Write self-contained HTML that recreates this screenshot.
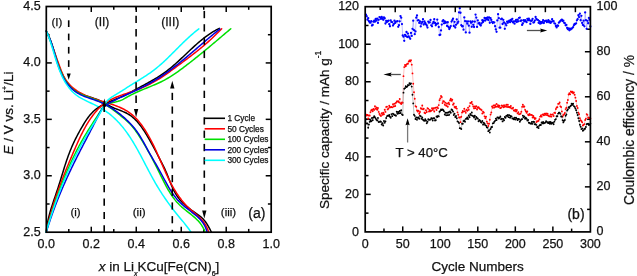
<!DOCTYPE html>
<html><head><meta charset="utf-8"><style>
html,body{margin:0;padding:0;background:#fff;}
svg{display:block;}
text{font-family:"Liberation Sans",sans-serif;fill:#111;stroke:#111;stroke-width:0.25px;}
text{filter:grayscale(1);}
</style></head><body>
<svg width="637" height="276" viewBox="0 0 637 276">
<rect width="637" height="276" fill="#fff"/>
<line x1="68.79" y1="232.20" x2="68.79" y2="228.90" stroke="#000" stroke-width="1.5" />
<line x1="68.79" y1="6.50" x2="68.79" y2="9.80" stroke="#000" stroke-width="1.5" />
<line x1="91.28" y1="232.20" x2="91.28" y2="226.70" stroke="#000" stroke-width="1.5" />
<line x1="91.28" y1="6.50" x2="91.28" y2="12.00" stroke="#000" stroke-width="1.5" />
<line x1="113.77" y1="232.20" x2="113.77" y2="228.90" stroke="#000" stroke-width="1.5" />
<line x1="113.77" y1="6.50" x2="113.77" y2="9.80" stroke="#000" stroke-width="1.5" />
<line x1="136.26" y1="232.20" x2="136.26" y2="226.70" stroke="#000" stroke-width="1.5" />
<line x1="136.26" y1="6.50" x2="136.26" y2="12.00" stroke="#000" stroke-width="1.5" />
<line x1="158.75" y1="232.20" x2="158.75" y2="228.90" stroke="#000" stroke-width="1.5" />
<line x1="158.75" y1="6.50" x2="158.75" y2="9.80" stroke="#000" stroke-width="1.5" />
<line x1="181.24" y1="232.20" x2="181.24" y2="226.70" stroke="#000" stroke-width="1.5" />
<line x1="181.24" y1="6.50" x2="181.24" y2="12.00" stroke="#000" stroke-width="1.5" />
<line x1="203.73" y1="232.20" x2="203.73" y2="228.90" stroke="#000" stroke-width="1.5" />
<line x1="203.73" y1="6.50" x2="203.73" y2="9.80" stroke="#000" stroke-width="1.5" />
<line x1="226.22" y1="232.20" x2="226.22" y2="226.70" stroke="#000" stroke-width="1.5" />
<line x1="226.22" y1="6.50" x2="226.22" y2="12.00" stroke="#000" stroke-width="1.5" />
<line x1="248.71" y1="232.20" x2="248.71" y2="228.90" stroke="#000" stroke-width="1.5" />
<line x1="248.71" y1="6.50" x2="248.71" y2="9.80" stroke="#000" stroke-width="1.5" />
<line x1="46.30" y1="203.99" x2="49.60" y2="203.99" stroke="#000" stroke-width="1.5" />
<line x1="271.20" y1="203.99" x2="267.90" y2="203.99" stroke="#000" stroke-width="1.5" />
<line x1="46.30" y1="175.77" x2="51.80" y2="175.77" stroke="#000" stroke-width="1.5" />
<line x1="271.20" y1="175.77" x2="265.70" y2="175.77" stroke="#000" stroke-width="1.5" />
<line x1="46.30" y1="147.56" x2="49.60" y2="147.56" stroke="#000" stroke-width="1.5" />
<line x1="271.20" y1="147.56" x2="267.90" y2="147.56" stroke="#000" stroke-width="1.5" />
<line x1="46.30" y1="119.35" x2="51.80" y2="119.35" stroke="#000" stroke-width="1.5" />
<line x1="271.20" y1="119.35" x2="265.70" y2="119.35" stroke="#000" stroke-width="1.5" />
<line x1="46.30" y1="91.14" x2="49.60" y2="91.14" stroke="#000" stroke-width="1.5" />
<line x1="271.20" y1="91.14" x2="267.90" y2="91.14" stroke="#000" stroke-width="1.5" />
<line x1="46.30" y1="62.93" x2="51.80" y2="62.93" stroke="#000" stroke-width="1.5" />
<line x1="271.20" y1="62.93" x2="265.70" y2="62.93" stroke="#000" stroke-width="1.5" />
<line x1="46.30" y1="34.71" x2="49.60" y2="34.71" stroke="#000" stroke-width="1.5" />
<line x1="271.20" y1="34.71" x2="267.90" y2="34.71" stroke="#000" stroke-width="1.5" />
<text x="46.30" y="248.00" font-size="12.5" text-anchor="middle" >0.0</text>
<text x="91.28" y="248.00" font-size="12.5" text-anchor="middle" >0.2</text>
<text x="136.26" y="248.00" font-size="12.5" text-anchor="middle" >0.4</text>
<text x="181.24" y="248.00" font-size="12.5" text-anchor="middle" >0.6</text>
<text x="226.22" y="248.00" font-size="12.5" text-anchor="middle" >0.8</text>
<text x="271.20" y="248.00" font-size="12.5" text-anchor="middle" >1.0</text>
<text x="40.60" y="236.00" font-size="12.5" text-anchor="end" >2.5</text>
<text x="40.60" y="179.00" font-size="12.5" text-anchor="end" >3.0</text>
<text x="40.60" y="123.00" font-size="12.5" text-anchor="end" >3.5</text>
<text x="40.60" y="66.00" font-size="12.5" text-anchor="end" >4.0</text>
<text x="40.60" y="10.00" font-size="12.5" text-anchor="end" >4.5</text>
<g stroke-linejoin="round" stroke-linecap="round"><path d="M46.19,31.10 L46.99,32.56 L47.75,34.04 L48.47,35.56 L49.15,37.09 L49.81,38.66 L50.44,40.24 L51.04,41.84 L51.62,43.46 L52.18,45.09 L52.72,46.73 L53.25,48.39 L53.78,50.05 L54.29,51.72 L54.80,53.40 L55.31,55.07 L55.82,56.75 L56.34,58.42 L56.87,60.09 L57.40,61.76 L57.95,63.41 L58.52,65.06 L59.11,66.69 L59.72,68.31 L60.36,69.91 L61.03,71.49 L61.73,73.05 L62.47,74.59 L63.24,76.10 L64.06,77.59 L64.92,79.04 L65.83,80.47 L66.79,81.86 L67.80,83.21 L68.86,84.53 L69.97,85.79 L71.13,87.01 L72.35,88.18 L73.61,89.28 L74.93,90.33 L76.30,91.31 L77.72,92.22 L79.19,93.06 L80.71,93.81 L82.28,94.50 L83.88,95.13 L85.52,95.71 L87.18,96.26 L88.85,96.79 L90.53,97.31 L92.20,97.83 L93.86,98.37 L95.51,98.94 L97.13,99.55 L98.71,100.21 L100.25,100.93 L101.77,101.69 L103.27,102.48 L104.76,103.30 L106.24,104.12 L107.73,104.94 L109.24,105.74 L110.76,106.52 L112.32,107.26 L113.91,107.95 L115.53,108.61 L117.16,109.25 L118.80,109.88 L120.43,110.51 L122.05,111.15 L123.66,111.82 L125.23,112.53 L126.76,113.29 L128.24,114.10 L129.67,114.99 L131.04,115.95 L132.35,116.97 L133.62,118.06 L134.85,119.19 L136.03,120.38 L137.17,121.61 L138.27,122.89 L139.34,124.20 L140.38,125.55 L141.39,126.93 L142.38,128.33 L143.35,129.75 L144.30,131.19 L145.23,132.64 L146.14,134.10 L147.05,135.57 L147.93,137.06 L148.81,138.55 L149.67,140.05 L150.52,141.56 L151.36,143.08 L152.19,144.60 L153.02,146.12 L153.83,147.65 L154.64,149.17 L155.44,150.70 L156.24,152.23 L157.03,153.75 L157.82,155.28 L158.61,156.80 L159.40,158.31 L160.18,159.82 L160.97,161.32 L161.75,162.83 L162.52,164.33 L163.28,165.84 L164.03,167.36 L164.76,168.89 L165.47,170.44 L166.17,172.00 L166.83,173.59 L167.48,175.19 L168.12,176.81 L168.75,178.44 L169.38,180.07 L170.01,181.70 L170.65,183.32 L171.31,184.94 L171.98,186.54 L172.69,188.12 L173.42,189.68 L174.20,191.22 L175.02,192.72 L175.89,194.19 L176.81,195.62 L177.78,197.01 L178.80,198.36 L179.88,199.67 L180.99,200.95 L182.14,202.19 L183.34,203.40 L184.57,204.58 L185.83,205.72 L187.13,206.83 L188.45,207.91 L189.80,208.96 L191.17,209.98 L192.56,210.97 L193.96,211.94 L195.37,212.90 L196.77,213.86 L198.15,214.83 L199.50,215.84 L200.81,216.88 L202.07,217.98 L203.27,219.15 L204.39,220.40 L205.44,221.72 L206.42,223.13 L207.34,224.59 L208.22,226.10 L209.07,227.64 L209.89,229.20 L210.69,230.76 L211.50,232.32" fill="none" stroke="#000000" stroke-width="1.5"/><path d="M46.26,31.03 L46.96,32.59 L47.63,34.16 L48.29,35.74 L48.94,37.31 L49.57,38.89 L50.19,40.47 L50.80,42.06 L51.40,43.64 L52.00,45.23 L52.58,46.82 L53.16,48.41 L53.74,50.01 L54.31,51.61 L54.88,53.21 L55.45,54.81 L56.02,56.42 L56.59,58.02 L57.17,59.64 L57.75,61.25 L58.33,62.87 L58.92,64.49 L59.51,66.11 L60.12,67.73 L60.74,69.36 L61.37,70.98 L62.04,72.58 L62.73,74.16 L63.47,75.72 L64.25,77.24 L65.09,78.72 L65.98,80.15 L66.95,81.52 L67.98,82.84 L69.07,84.11 L70.23,85.32 L71.43,86.47 L72.69,87.58 L73.99,88.64 L75.34,89.64 L76.72,90.61 L78.14,91.52 L79.59,92.39 L81.07,93.21 L82.57,94.00 L84.09,94.74 L85.63,95.45 L87.18,96.12 L88.75,96.76 L90.34,97.37 L91.94,97.96 L93.55,98.53 L95.17,99.08 L96.80,99.61 L98.43,100.14 L100.07,100.65 L101.72,101.16 L103.37,101.66 L105.02,102.17 L106.67,102.68 L108.32,103.20 L109.96,103.72 L111.60,104.26 L113.24,104.82 L114.86,105.40 L116.48,106.00 L118.09,106.62 L119.67,107.28 L121.24,107.97 L122.78,108.70 L124.29,109.47 L125.77,110.29 L127.22,111.16 L128.62,112.07 L129.99,113.05 L131.31,114.07 L132.59,115.14 L133.84,116.25 L135.05,117.41 L136.22,118.60 L137.37,119.83 L138.48,121.10 L139.56,122.39 L140.61,123.72 L141.63,125.07 L142.62,126.44 L143.59,127.83 L144.54,129.24 L145.46,130.66 L146.36,132.10 L147.24,133.55 L148.10,135.02 L148.94,136.50 L149.76,138.00 L150.57,139.50 L151.36,141.02 L152.14,142.54 L152.90,144.08 L153.65,145.62 L154.39,147.17 L155.12,148.72 L155.84,150.29 L156.56,151.85 L157.26,153.43 L157.96,155.00 L158.66,156.58 L159.35,158.16 L160.04,159.74 L160.73,161.33 L161.42,162.91 L162.11,164.49 L162.80,166.07 L163.49,167.65 L164.19,169.22 L164.89,170.79 L165.60,172.36 L166.31,173.92 L167.04,175.47 L167.77,177.01 L168.52,178.55 L169.27,180.08 L170.04,181.60 L170.82,183.11 L171.62,184.61 L172.43,186.09 L173.26,187.57 L174.11,189.03 L174.98,190.47 L175.86,191.90 L176.77,193.32 L177.70,194.71 L178.66,196.10 L179.64,197.46 L180.64,198.80 L181.67,200.13 L182.73,201.43 L183.82,202.71 L184.94,203.97 L186.09,205.21 L187.27,206.43 L188.48,207.62 L189.73,208.78 L190.99,209.94 L192.27,211.07 L193.56,212.19 L194.85,213.31 L196.13,214.42 L197.40,215.55 L198.64,216.69 L199.85,217.85 L201.02,219.05 L202.14,220.28 L203.21,221.56 L204.21,222.89 L205.15,224.28 L206.02,225.73 L206.80,227.25 L207.50,228.85 L208.10,230.53 L208.60,232.30" fill="none" stroke="#ff0000" stroke-width="1.5"/><path d="M46.22,31.06 L46.97,32.53 L47.68,34.02 L48.36,35.52 L49.01,37.04 L49.63,38.58 L50.23,40.13 L50.80,41.70 L51.36,43.27 L51.90,44.86 L52.42,46.45 L52.93,48.05 L53.44,49.66 L53.94,51.27 L54.43,52.88 L54.92,54.50 L55.42,56.11 L55.92,57.73 L56.43,59.34 L56.94,60.95 L57.47,62.55 L58.02,64.15 L58.58,65.74 L59.16,67.32 L59.77,68.89 L60.40,70.45 L61.06,71.99 L61.75,73.52 L62.47,75.03 L63.23,76.53 L64.03,78.00 L64.87,79.45 L65.75,80.87 L66.68,82.25 L67.65,83.59 L68.66,84.89 L69.72,86.14 L70.84,87.33 L72.00,88.46 L73.22,89.53 L74.49,90.53 L75.81,91.46 L77.19,92.31 L78.62,93.10 L80.09,93.84 L81.60,94.52 L83.14,95.17 L84.70,95.79 L86.29,96.38 L87.89,96.95 L89.49,97.52 L91.10,98.09 L92.71,98.66 L94.30,99.26 L95.89,99.87 L97.45,100.52 L98.99,101.20 L100.50,101.93 L101.98,102.69 L103.44,103.49 L104.89,104.33 L106.31,105.19 L107.71,106.09 L109.09,107.01 L110.46,107.95 L111.82,108.91 L113.17,109.90 L114.50,110.90 L115.83,111.91 L117.15,112.94 L118.46,113.97 L119.77,115.02 L121.08,116.06 L122.38,117.12 L123.68,118.18 L124.96,119.25 L126.22,120.35 L127.45,121.47 L128.66,122.61 L129.83,123.78 L130.97,124.98 L132.06,126.22 L133.11,127.49 L134.13,128.79 L135.13,130.11 L136.09,131.46 L137.03,132.82 L137.96,134.20 L138.87,135.58 L139.76,136.98 L140.65,138.38 L141.53,139.79 L142.40,141.21 L143.26,142.63 L144.11,144.05 L144.95,145.48 L145.79,146.92 L146.62,148.36 L147.44,149.81 L148.26,151.26 L149.07,152.72 L149.87,154.18 L150.67,155.65 L151.46,157.12 L152.24,158.59 L153.02,160.07 L153.79,161.56 L154.56,163.05 L155.32,164.54 L156.08,166.04 L156.84,167.54 L157.59,169.05 L158.33,170.56 L159.08,172.07 L159.82,173.59 L160.55,175.11 L161.29,176.63 L162.04,178.15 L162.79,179.66 L163.54,181.17 L164.30,182.67 L165.08,184.16 L165.86,185.65 L166.66,187.12 L167.48,188.58 L168.31,190.03 L169.16,191.46 L170.04,192.87 L170.94,194.27 L171.86,195.64 L172.81,196.99 L173.78,198.32 L174.79,199.62 L175.83,200.89 L176.91,202.14 L178.02,203.35 L179.17,204.54 L180.36,205.69 L181.58,206.81 L182.84,207.90 L184.12,208.97 L185.43,210.03 L186.74,211.07 L188.06,212.11 L189.38,213.15 L190.70,214.19 L192.00,215.25 L193.29,216.32 L194.55,217.41 L195.77,218.52 L196.97,219.67 L198.11,220.85 L199.21,222.07 L200.25,223.34 L201.23,224.66 L202.14,226.04 L202.98,227.49 L203.74,228.99 L204.40,230.58 L204.98,232.23" fill="none" stroke="#00e000" stroke-width="1.5"/><path d="M46.19,31.12 L46.96,32.54 L47.69,33.99 L48.38,35.47 L49.04,36.98 L49.67,38.51 L50.27,40.06 L50.84,41.63 L51.39,43.22 L51.93,44.83 L52.44,46.44 L52.95,48.07 L53.44,49.71 L53.93,51.36 L54.41,53.01 L54.89,54.67 L55.37,56.32 L55.85,57.98 L56.34,59.63 L56.84,61.28 L57.36,62.92 L57.89,64.55 L58.43,66.17 L59.00,67.78 L59.60,69.37 L60.22,70.95 L60.87,72.51 L61.55,74.04 L62.27,75.55 L63.03,77.04 L63.83,78.50 L64.67,79.93 L65.56,81.33 L66.50,82.69 L67.49,84.02 L68.53,85.30 L69.62,86.55 L70.76,87.74 L71.95,88.88 L73.18,89.97 L74.47,90.99 L75.80,91.96 L77.17,92.85 L78.60,93.68 L80.06,94.45 L81.56,95.17 L83.09,95.84 L84.65,96.47 L86.23,97.08 L87.83,97.66 L89.44,98.22 L91.06,98.77 L92.68,99.32 L94.30,99.88 L95.91,100.46 L97.51,101.05 L99.10,101.67 L100.66,102.33 L102.21,103.02 L103.73,103.75 L105.24,104.51 L106.72,105.29 L108.19,106.11 L109.64,106.96 L111.07,107.84 L112.48,108.74 L113.88,109.67 L115.26,110.62 L116.62,111.60 L117.97,112.60 L119.30,113.62 L120.61,114.67 L121.91,115.73 L123.19,116.81 L124.46,117.92 L125.70,119.04 L126.93,120.19 L128.13,121.36 L129.31,122.55 L130.47,123.76 L131.61,124.99 L132.72,126.25 L133.80,127.52 L134.86,128.82 L135.89,130.15 L136.89,131.49 L137.85,132.86 L138.79,134.25 L139.70,135.66 L140.59,137.10 L141.45,138.54 L142.29,140.00 L143.12,141.47 L143.94,142.95 L144.75,144.44 L145.55,145.93 L146.36,147.42 L147.16,148.90 L147.97,150.38 L148.79,151.86 L149.61,153.32 L150.44,154.78 L151.28,156.24 L152.13,157.69 L152.97,159.14 L153.82,160.59 L154.67,162.04 L155.51,163.49 L156.36,164.94 L157.20,166.40 L158.04,167.85 L158.86,169.32 L159.69,170.79 L160.50,172.27 L161.31,173.76 L162.11,175.25 L162.91,176.75 L163.70,178.24 L164.50,179.74 L165.31,181.23 L166.12,182.72 L166.94,184.19 L167.77,185.66 L168.61,187.12 L169.47,188.57 L170.35,190.00 L171.24,191.41 L172.16,192.80 L173.11,194.17 L174.08,195.52 L175.08,196.84 L176.12,198.14 L177.18,199.40 L178.29,200.64 L179.43,201.84 L180.61,203.01 L181.83,204.14 L183.08,205.25 L184.36,206.33 L185.66,207.39 L186.98,208.43 L188.31,209.46 L189.65,210.49 L190.99,211.51 L192.33,212.53 L193.66,213.55 L194.96,214.59 L196.24,215.66 L197.49,216.75 L198.69,217.89 L199.85,219.06 L200.95,220.28 L201.99,221.55 L202.96,222.88 L203.87,224.27 L204.69,225.73 L205.43,227.26 L206.08,228.87 L206.63,230.56 L207.09,232.33" fill="none" stroke="#0000e0" stroke-width="1.5"/><path d="M46.36,31.15 L46.95,32.50 L47.53,33.88 L48.08,35.28 L48.63,36.71 L49.15,38.16 L49.67,39.63 L50.17,41.12 L50.67,42.63 L51.16,44.15 L51.64,45.68 L52.11,47.23 L52.59,48.79 L53.06,50.35 L53.53,51.93 L54.00,53.50 L54.48,55.09 L54.96,56.67 L55.44,58.25 L55.93,59.83 L56.44,61.41 L56.95,62.99 L57.47,64.56 L58.01,66.12 L58.56,67.67 L59.13,69.21 L59.72,70.73 L60.32,72.24 L60.95,73.74 L61.59,75.21 L62.27,76.67 L62.96,78.10 L63.69,79.52 L64.44,80.90 L65.22,82.27 L66.04,83.60 L66.89,84.90 L67.77,86.17 L68.68,87.41 L69.64,88.61 L70.63,89.78 L71.66,90.91 L72.74,92.00 L73.86,93.05 L75.02,94.05 L76.23,95.01 L77.49,95.92 L78.79,96.79 L80.14,97.63 L81.51,98.42 L82.92,99.19 L84.36,99.93 L85.82,100.66 L87.29,101.37 L88.78,102.07 L90.27,102.76 L91.77,103.46 L93.27,104.16 L94.75,104.87 L96.23,105.59 L97.69,106.33 L99.13,107.10 L100.54,107.90 L101.93,108.72 L103.30,109.57 L104.64,110.44 L105.96,111.34 L107.26,112.27 L108.53,113.22 L109.78,114.19 L111.01,115.19 L112.21,116.21 L113.40,117.26 L114.55,118.33 L115.69,119.41 L116.81,120.52 L117.90,121.66 L118.98,122.81 L120.03,123.98 L121.06,125.16 L122.08,126.37 L123.08,127.59 L124.06,128.84 L125.03,130.09 L125.97,131.36 L126.91,132.65 L127.83,133.95 L128.73,135.26 L129.62,136.59 L130.50,137.93 L131.36,139.28 L132.22,140.64 L133.06,142.01 L133.89,143.39 L134.71,144.78 L135.53,146.18 L136.33,147.59 L137.13,149.00 L137.92,150.42 L138.70,151.84 L139.48,153.27 L140.25,154.70 L141.02,156.14 L141.78,157.58 L142.54,159.02 L143.29,160.47 L144.05,161.91 L144.80,163.36 L145.55,164.80 L146.30,166.25 L147.05,167.69 L147.81,169.13 L148.56,170.57 L149.32,172.00 L150.07,173.43 L150.84,174.85 L151.60,176.27 L152.37,177.69 L153.15,179.09 L153.93,180.49 L154.72,181.88 L155.52,183.26 L156.32,184.64 L157.13,186.00 L157.95,187.36 L158.77,188.71 L159.61,190.05 L160.45,191.39 L161.30,192.72 L162.16,194.04 L163.02,195.35 L163.90,196.66 L164.78,197.96 L165.67,199.26 L166.57,200.55 L167.49,201.83 L168.41,203.11 L169.34,204.39 L170.28,205.66 L171.22,206.93 L172.18,208.19 L173.15,209.44 L174.13,210.70 L175.12,211.95 L176.12,213.19 L177.13,214.44 L178.15,215.68 L179.18,216.92 L180.20,218.16 L181.23,219.40 L182.26,220.65 L183.28,221.90 L184.29,223.15 L185.30,224.41 L186.30,225.67 L187.28,226.95 L188.25,228.23 L189.20,229.52 L190.13,230.82 L191.04,232.14" fill="none" stroke="#00ffff" stroke-width="1.5"/><path d="M46.28,232.19 L46.43,230.40 L46.62,228.62 L46.85,226.85 L47.12,225.09 L47.42,223.33 L47.75,221.58 L48.12,219.84 L48.51,218.11 L48.94,216.38 L49.38,214.66 L49.85,212.94 L50.34,211.23 L50.85,209.52 L51.37,207.81 L51.91,206.11 L52.46,204.41 L53.02,202.71 L53.59,201.02 L54.16,199.32 L54.74,197.63 L55.32,195.94 L55.89,194.24 L56.47,192.55 L57.04,190.86 L57.60,189.16 L58.16,187.47 L58.70,185.77 L59.24,184.07 L59.77,182.37 L60.30,180.67 L60.82,178.96 L61.34,177.26 L61.86,175.56 L62.37,173.86 L62.89,172.16 L63.42,170.46 L63.94,168.77 L64.47,167.07 L65.01,165.38 L65.56,163.69 L66.12,162.01 L66.68,160.33 L67.26,158.65 L67.85,156.98 L68.46,155.31 L69.08,153.65 L69.72,151.99 L70.38,150.34 L71.06,148.69 L71.75,147.05 L72.47,145.42 L73.20,143.79 L73.96,142.17 L74.73,140.55 L75.52,138.94 L76.32,137.34 L77.14,135.75 L77.98,134.16 L78.83,132.57 L79.70,130.99 L80.59,129.42 L81.48,127.86 L82.40,126.30 L83.32,124.75 L84.26,123.20 L85.22,121.68 L86.21,120.17 L87.22,118.69 L88.26,117.24 L89.34,115.84 L90.46,114.48 L91.63,113.17 L92.85,111.92 L94.11,110.73 L95.43,109.61 L96.80,108.55 L98.21,107.55 L99.67,106.60 L101.16,105.71 L102.69,104.86 L104.25,104.06 L105.84,103.30 L107.44,102.58 L109.07,101.88 L110.72,101.21 L112.37,100.54 L114.03,99.89 L115.68,99.23 L117.34,98.56 L118.99,97.87 L120.62,97.16 L122.24,96.42 L123.85,95.66 L125.45,94.88 L127.03,94.07 L128.61,93.26 L130.19,92.43 L131.76,91.59 L133.33,90.75 L134.90,89.90 L136.47,89.06 L138.04,88.21 L139.61,87.37 L141.19,86.53 L142.76,85.69 L144.33,84.84 L145.90,83.99 L147.47,83.14 L149.03,82.27 L150.59,81.40 L152.14,80.52 L153.68,79.62 L155.21,78.72 L156.73,77.79 L158.24,76.86 L159.74,75.90 L161.23,74.92 L162.70,73.93 L164.16,72.91 L165.60,71.86 L167.02,70.79 L168.43,69.70 L169.82,68.59 L171.20,67.46 L172.57,66.32 L173.92,65.15 L175.27,63.97 L176.60,62.78 L177.93,61.58 L179.25,60.37 L180.57,59.15 L181.88,57.92 L183.19,56.69 L184.49,55.45 L185.79,54.22 L187.10,52.98 L188.40,51.75 L189.70,50.52 L191.01,49.29 L192.32,48.08 L193.64,46.86 L194.96,45.66 L196.29,44.48 L197.62,43.30 L198.97,42.14 L200.32,40.99 L201.69,39.87 L203.07,38.76 L204.46,37.68 L205.87,36.61 L207.29,35.57 L208.73,34.56 L210.19,33.58 L211.66,32.62 L213.16,31.70 L214.67,30.81 L216.21,29.95 L217.77,29.13 L219.36,28.35" fill="none" stroke="#000000" stroke-width="1.5"/><path d="M46.16,232.20 L46.54,230.44 L46.93,228.69 L47.32,226.94 L47.73,225.19 L48.15,223.45 L48.59,221.71 L49.03,219.98 L49.48,218.25 L49.94,216.52 L50.41,214.80 L50.90,213.08 L51.39,211.37 L51.89,209.66 L52.40,207.95 L52.92,206.25 L53.45,204.55 L53.98,202.85 L54.53,201.15 L55.08,199.46 L55.64,197.77 L56.21,196.08 L56.79,194.40 L57.38,192.72 L57.97,191.04 L58.57,189.36 L59.17,187.69 L59.78,186.02 L60.40,184.35 L61.03,182.68 L61.66,181.01 L62.30,179.35 L62.94,177.69 L63.59,176.03 L64.24,174.37 L64.90,172.71 L65.57,171.06 L66.23,169.40 L66.91,167.75 L67.59,166.09 L68.27,164.44 L68.95,162.79 L69.64,161.14 L70.34,159.49 L71.03,157.85 L71.73,156.20 L72.43,154.55 L73.14,152.90 L73.85,151.26 L74.56,149.61 L75.27,147.97 L75.99,146.32 L76.71,144.68 L77.44,143.04 L78.18,141.40 L78.92,139.77 L79.68,138.15 L80.44,136.53 L81.22,134.92 L82.02,133.31 L82.83,131.72 L83.65,130.14 L84.50,128.56 L85.36,127.00 L86.25,125.45 L87.15,123.92 L88.08,122.40 L89.03,120.89 L90.01,119.40 L91.02,117.93 L92.05,116.48 L93.11,115.04 L94.21,113.63 L95.33,112.25 L96.49,110.90 L97.69,109.58 L98.91,108.31 L100.18,107.08 L101.48,105.90 L102.83,104.77 L104.21,103.70 L105.64,102.69 L107.10,101.73 L108.61,100.84 L110.15,99.99 L111.72,99.19 L113.31,98.43 L114.94,97.71 L116.58,97.02 L118.25,96.36 L119.93,95.73 L121.63,95.11 L123.34,94.52 L125.05,93.93 L126.77,93.35 L128.50,92.77 L130.22,92.19 L131.94,91.61 L133.65,91.01 L135.35,90.40 L137.04,89.78 L138.71,89.13 L140.37,88.45 L142.02,87.76 L143.65,87.04 L145.27,86.31 L146.87,85.55 L148.46,84.77 L150.04,83.97 L151.61,83.15 L153.17,82.31 L154.71,81.45 L156.24,80.57 L157.76,79.67 L159.27,78.75 L160.77,77.81 L162.26,76.84 L163.74,75.86 L165.21,74.86 L166.67,73.85 L168.12,72.81 L169.57,71.77 L171.01,70.72 L172.45,69.66 L173.89,68.60 L175.32,67.54 L176.76,66.48 L178.19,65.43 L179.63,64.37 L181.06,63.31 L182.49,62.26 L183.92,61.20 L185.34,60.14 L186.77,59.07 L188.18,58.01 L189.60,56.93 L191.01,55.86 L192.42,54.77 L193.82,53.68 L195.22,52.59 L196.62,51.48 L198.01,50.37 L199.40,49.25 L200.77,48.13 L202.15,46.99 L203.51,45.84 L204.87,44.69 L206.23,43.52 L207.57,42.35 L208.91,41.16 L210.23,39.97 L211.55,38.76 L212.86,37.54 L214.15,36.32 L215.44,35.08 L216.71,33.82 L217.98,32.56 L219.23,31.28 L220.47,29.99 L221.69,28.68" fill="none" stroke="#ff0000" stroke-width="1.5"/><path d="M46.03,232.07 L46.53,230.34 L47.03,228.60 L47.55,226.86 L48.06,225.12 L48.58,223.39 L49.10,221.65 L49.63,219.91 L50.17,218.17 L50.70,216.43 L51.25,214.69 L51.80,212.95 L52.35,211.22 L52.91,209.48 L53.47,207.74 L54.04,206.01 L54.62,204.27 L55.20,202.54 L55.79,200.81 L56.38,199.08 L56.98,197.35 L57.59,195.62 L58.20,193.90 L58.82,192.18 L59.45,190.45 L60.08,188.74 L60.72,187.02 L61.37,185.31 L62.02,183.60 L62.68,181.89 L63.35,180.19 L64.03,178.49 L64.71,176.79 L65.41,175.10 L66.11,173.41 L66.82,171.72 L67.54,170.04 L68.26,168.36 L69.00,166.68 L69.74,165.02 L70.49,163.35 L71.25,161.69 L72.02,160.04 L72.80,158.39 L73.59,156.74 L74.39,155.10 L75.20,153.47 L76.01,151.84 L76.84,150.21 L77.68,148.60 L78.53,146.99 L79.38,145.38 L80.25,143.78 L81.13,142.19 L82.02,140.61 L82.92,139.03 L83.83,137.46 L84.75,135.89 L85.68,134.33 L86.63,132.78 L87.58,131.24 L88.54,129.70 L89.52,128.16 L90.49,126.62 L91.48,125.08 L92.47,123.54 L93.47,122.00 L94.47,120.45 L95.47,118.90 L96.48,117.35 L97.48,115.78 L98.49,114.21 L99.50,112.64 L100.51,111.09 L101.53,109.59 L102.54,108.16 L103.60,106.83 L104.76,105.66 L106.06,104.70 L107.53,103.95 L109.13,103.36 L110.83,102.90 L112.60,102.50 L114.42,102.14 L116.25,101.76 L118.07,101.33 L119.84,100.79 L121.54,100.11 L123.19,99.32 L124.79,98.44 L126.38,97.52 L127.96,96.61 L129.56,95.73 L131.18,94.88 L132.81,94.06 L134.46,93.26 L136.12,92.50 L137.79,91.75 L139.47,91.02 L141.15,90.30 L142.84,89.60 L144.53,88.90 L146.23,88.21 L147.92,87.52 L149.62,86.83 L151.31,86.13 L153.00,85.43 L154.68,84.72 L156.35,83.99 L158.01,83.25 L159.67,82.49 L161.31,81.70 L162.93,80.89 L164.54,80.05 L166.13,79.18 L167.71,78.27 L169.27,77.34 L170.81,76.39 L172.35,75.41 L173.87,74.40 L175.37,73.38 L176.87,72.34 L178.36,71.28 L179.84,70.21 L181.31,69.13 L182.77,68.04 L184.23,66.94 L185.69,65.83 L187.14,64.72 L188.58,63.60 L190.03,62.48 L191.47,61.36 L192.90,60.23 L194.33,59.09 L195.76,57.96 L197.19,56.81 L198.61,55.67 L200.03,54.52 L201.45,53.37 L202.86,52.21 L204.27,51.05 L205.68,49.89 L207.09,48.73 L208.49,47.56 L209.89,46.40 L211.30,45.23 L212.70,44.05 L214.09,42.88 L215.49,41.70 L216.88,40.52 L218.28,39.34 L219.67,38.16 L221.06,36.98 L222.46,35.80 L223.85,34.62 L225.24,33.43 L226.63,32.25 L228.02,31.07 L229.41,29.88 L230.80,28.70" fill="none" stroke="#00e000" stroke-width="1.5"/><path d="M46.23,232.17 L46.75,230.49 L47.27,228.82 L47.80,227.15 L48.34,225.48 L48.88,223.81 L49.43,222.15 L49.99,220.49 L50.56,218.82 L51.13,217.17 L51.72,215.51 L52.30,213.85 L52.90,212.20 L53.50,210.55 L54.11,208.90 L54.73,207.26 L55.35,205.61 L55.98,203.97 L56.62,202.33 L57.26,200.70 L57.91,199.06 L58.56,197.43 L59.22,195.80 L59.89,194.17 L60.57,192.55 L61.25,190.92 L61.93,189.30 L62.62,187.69 L63.32,186.07 L64.02,184.46 L64.73,182.85 L65.45,181.24 L66.17,179.64 L66.89,178.04 L67.62,176.44 L68.36,174.85 L69.10,173.25 L69.85,171.66 L70.60,170.08 L71.35,168.49 L72.12,166.91 L72.88,165.33 L73.65,163.76 L74.43,162.19 L75.21,160.62 L75.99,159.05 L76.78,157.48 L77.57,155.92 L78.36,154.36 L79.16,152.80 L79.96,151.24 L80.76,149.68 L81.56,148.12 L82.37,146.56 L83.18,145.01 L83.98,143.45 L84.79,141.90 L85.61,140.34 L86.42,138.78 L87.23,137.22 L88.04,135.67 L88.86,134.11 L89.67,132.55 L90.48,130.98 L91.29,129.42 L92.11,127.85 L92.92,126.29 L93.72,124.72 L94.53,123.15 L95.34,121.57 L96.14,119.99 L96.94,118.41 L97.74,116.83 L98.54,115.25 L99.35,113.69 L100.18,112.15 L101.03,110.65 L101.94,109.22 L102.95,107.90 L104.11,106.72 L105.39,105.66 L106.78,104.71 L108.22,103.81 L109.70,102.95 L111.20,102.11 L112.73,101.29 L114.27,100.49 L115.83,99.71 L117.40,98.94 L118.99,98.19 L120.59,97.44 L122.19,96.70 L123.80,95.96 L125.41,95.23 L127.03,94.50 L128.64,93.76 L130.25,93.02 L131.86,92.28 L133.46,91.53 L135.06,90.78 L136.65,90.02 L138.24,89.25 L139.82,88.47 L141.39,87.68 L142.96,86.89 L144.53,86.08 L146.08,85.27 L147.63,84.44 L149.17,83.60 L150.70,82.75 L152.22,81.88 L153.74,81.00 L155.24,80.10 L156.73,79.19 L158.21,78.26 L159.69,77.32 L161.15,76.37 L162.60,75.40 L164.05,74.41 L165.49,73.42 L166.92,72.41 L168.34,71.39 L169.75,70.36 L171.16,69.32 L172.56,68.27 L173.96,67.21 L175.34,66.14 L176.73,65.06 L178.10,63.97 L179.48,62.88 L180.84,61.78 L182.21,60.67 L183.56,59.56 L184.92,58.44 L186.27,57.31 L187.62,56.18 L188.96,55.05 L190.31,53.91 L191.65,52.77 L192.99,51.63 L194.33,50.48 L195.66,49.34 L197.00,48.19 L198.33,47.04 L199.67,45.89 L201.00,44.75 L202.34,43.60 L203.67,42.46 L205.01,41.31 L206.35,40.17 L207.69,39.03 L209.03,37.90 L210.38,36.77 L211.72,35.64 L213.07,34.52 L214.43,33.41 L215.79,32.30 L217.15,31.19 L218.51,30.10 L219.88,29.01" fill="none" stroke="#0000e0" stroke-width="1.5"/><path d="M46.15,232.13 L46.60,230.55 L47.06,228.97 L47.53,227.40 L48.00,225.82 L48.48,224.24 L48.96,222.66 L49.45,221.09 L49.94,219.52 L50.44,217.94 L50.94,216.37 L51.45,214.80 L51.97,213.23 L52.49,211.66 L53.01,210.09 L53.55,208.52 L54.08,206.96 L54.63,205.39 L55.18,203.83 L55.73,202.27 L56.29,200.71 L56.86,199.16 L57.43,197.60 L58.01,196.05 L58.59,194.50 L59.18,192.95 L59.78,191.40 L60.38,189.86 L60.99,188.32 L61.60,186.78 L62.22,185.24 L62.85,183.71 L63.48,182.18 L64.12,180.65 L64.76,179.12 L65.41,177.60 L66.07,176.08 L66.73,174.57 L67.39,173.05 L68.07,171.54 L68.75,170.04 L69.43,168.53 L70.13,167.03 L70.82,165.54 L71.53,164.04 L72.24,162.55 L72.96,161.07 L73.68,159.59 L74.41,158.11 L75.15,156.63 L75.89,155.16 L76.64,153.69 L77.39,152.23 L78.15,150.76 L78.92,149.31 L79.69,147.85 L80.47,146.40 L81.25,144.95 L82.05,143.50 L82.84,142.06 L83.65,140.61 L84.46,139.18 L85.27,137.74 L86.09,136.31 L86.92,134.87 L87.76,133.45 L88.60,132.02 L89.44,130.60 L90.30,129.18 L91.16,127.76 L92.02,126.34 L92.89,124.92 L93.77,123.51 L94.65,122.10 L95.54,120.69 L96.42,119.28 L97.29,117.86 L98.16,116.44 L99.01,115.02 L99.85,113.59 L100.66,112.16 L101.45,110.72 L102.21,109.26 L102.94,107.80 L103.66,106.33 L104.39,104.90 L105.17,103.51 L106.04,102.20 L107.04,100.99 L108.15,99.87 L109.35,98.83 L110.63,97.85 L111.98,96.93 L113.38,96.04 L114.81,95.18 L116.26,94.33 L117.70,93.47 L119.13,92.61 L120.55,91.72 L121.96,90.83 L123.35,89.93 L124.75,89.03 L126.14,88.13 L127.54,87.24 L128.94,86.35 L130.34,85.47 L131.75,84.59 L133.16,83.72 L134.57,82.85 L135.99,81.98 L137.40,81.11 L138.81,80.24 L140.21,79.36 L141.61,78.48 L143.01,77.59 L144.40,76.69 L145.79,75.79 L147.16,74.88 L148.53,73.95 L149.88,73.01 L151.22,72.06 L152.55,71.09 L153.87,70.11 L155.18,69.10 L156.46,68.08 L157.74,67.04 L159.00,65.99 L160.24,64.91 L161.48,63.83 L162.71,62.73 L163.92,61.61 L165.13,60.49 L166.33,59.36 L167.52,58.21 L168.70,57.06 L169.88,55.90 L171.06,54.74 L172.23,53.57 L173.40,52.40 L174.57,51.23 L175.73,50.05 L176.90,48.87 L178.06,47.70 L179.23,46.53 L180.40,45.36 L181.58,44.19 L182.75,43.03 L183.94,41.87 L185.13,40.73 L186.32,39.59 L187.53,38.46 L188.74,37.34 L189.96,36.23 L191.20,35.14 L192.44,34.06 L193.70,32.99 L194.96,31.94 L196.25,30.91 L197.55,29.90 L198.86,28.90" fill="none" stroke="#00ffff" stroke-width="1.5"/></g>
<path d="M66.70,73.50 L70.70,73.50 L68.70,79.80 Z" fill="#000"/>
<line x1="68.70" y1="60.20" x2="68.70" y2="66.90" stroke="#000" stroke-width="1.6" />
<line x1="68.70" y1="46.90" x2="68.70" y2="53.60" stroke="#000" stroke-width="1.6" />
<line x1="68.70" y1="33.60" x2="68.70" y2="40.30" stroke="#000" stroke-width="1.6" />
<line x1="68.70" y1="20.30" x2="68.70" y2="27.00" stroke="#000" stroke-width="1.6" />
<path d="M102.40,106.40 L106.40,106.40 L104.40,98.40 Z" fill="#000"/>
<line x1="104.20" y1="104.70" x2="104.20" y2="111.90" stroke="#000" stroke-width="1.6" />
<line x1="104.20" y1="118.10" x2="104.20" y2="125.30" stroke="#000" stroke-width="1.6" />
<line x1="104.20" y1="131.50" x2="104.20" y2="138.70" stroke="#000" stroke-width="1.6" />
<line x1="104.20" y1="144.90" x2="104.20" y2="152.10" stroke="#000" stroke-width="1.6" />
<line x1="104.20" y1="158.30" x2="104.20" y2="165.50" stroke="#000" stroke-width="1.6" />
<line x1="104.20" y1="171.70" x2="104.20" y2="178.90" stroke="#000" stroke-width="1.6" />
<line x1="104.20" y1="185.10" x2="104.20" y2="192.30" stroke="#000" stroke-width="1.6" />
<line x1="104.20" y1="198.50" x2="104.20" y2="205.70" stroke="#000" stroke-width="1.6" />
<line x1="104.20" y1="211.90" x2="104.20" y2="219.10" stroke="#000" stroke-width="1.6" />
<line x1="104.20" y1="225.30" x2="104.20" y2="232.20" stroke="#000" stroke-width="1.6" />
<path d="M133.95,108.90 L138.25,108.90 L136.10,117.20 Z" fill="#000"/>
<line x1="136.10" y1="95.60" x2="136.10" y2="102.90" stroke="#000" stroke-width="1.6" />
<line x1="136.10" y1="82.30" x2="136.10" y2="89.60" stroke="#000" stroke-width="1.6" />
<line x1="136.10" y1="69.00" x2="136.10" y2="76.30" stroke="#000" stroke-width="1.6" />
<line x1="136.10" y1="55.70" x2="136.10" y2="63.00" stroke="#000" stroke-width="1.6" />
<line x1="136.10" y1="42.40" x2="136.10" y2="49.70" stroke="#000" stroke-width="1.6" />
<line x1="136.10" y1="29.10" x2="136.10" y2="36.40" stroke="#000" stroke-width="1.6" />
<line x1="136.10" y1="15.80" x2="136.10" y2="23.10" stroke="#000" stroke-width="1.6" />
<line x1="136.10" y1="6.50" x2="136.10" y2="9.80" stroke="#000" stroke-width="1.6" />
<path d="M170.15,88.50 L174.45,88.50 L172.30,80.70 Z" fill="#000"/>
<line x1="172.30" y1="92.80" x2="172.30" y2="100.00" stroke="#000" stroke-width="1.6" />
<line x1="172.30" y1="106.50" x2="172.30" y2="113.70" stroke="#000" stroke-width="1.6" />
<line x1="172.30" y1="120.20" x2="172.30" y2="127.40" stroke="#000" stroke-width="1.6" />
<line x1="172.30" y1="133.90" x2="172.30" y2="141.10" stroke="#000" stroke-width="1.6" />
<line x1="172.30" y1="147.60" x2="172.30" y2="154.80" stroke="#000" stroke-width="1.6" />
<line x1="172.30" y1="161.30" x2="172.30" y2="168.50" stroke="#000" stroke-width="1.6" />
<line x1="172.30" y1="175.00" x2="172.30" y2="182.20" stroke="#000" stroke-width="1.6" />
<line x1="172.30" y1="188.70" x2="172.30" y2="195.90" stroke="#000" stroke-width="1.6" />
<line x1="172.30" y1="202.40" x2="172.30" y2="209.60" stroke="#000" stroke-width="1.6" />
<line x1="172.30" y1="216.10" x2="172.30" y2="223.30" stroke="#000" stroke-width="1.6" />
<line x1="172.30" y1="229.80" x2="172.30" y2="232.20" stroke="#000" stroke-width="1.6" />
<path d="M202.15,210.40 L206.45,210.40 L204.30,218.50 Z" fill="#000"/>
<line x1="204.30" y1="197.10" x2="204.30" y2="204.40" stroke="#000" stroke-width="1.6" />
<line x1="204.30" y1="183.80" x2="204.30" y2="191.10" stroke="#000" stroke-width="1.6" />
<line x1="204.30" y1="170.50" x2="204.30" y2="177.80" stroke="#000" stroke-width="1.6" />
<line x1="204.30" y1="157.20" x2="204.30" y2="164.50" stroke="#000" stroke-width="1.6" />
<line x1="204.30" y1="143.90" x2="204.30" y2="151.20" stroke="#000" stroke-width="1.6" />
<line x1="204.30" y1="130.60" x2="204.30" y2="137.90" stroke="#000" stroke-width="1.6" />
<line x1="204.30" y1="117.30" x2="204.30" y2="124.60" stroke="#000" stroke-width="1.6" />
<line x1="204.30" y1="104.00" x2="204.30" y2="111.30" stroke="#000" stroke-width="1.6" />
<line x1="204.30" y1="90.70" x2="204.30" y2="98.00" stroke="#000" stroke-width="1.6" />
<line x1="204.30" y1="77.40" x2="204.30" y2="84.70" stroke="#000" stroke-width="1.6" />
<line x1="204.30" y1="64.10" x2="204.30" y2="71.40" stroke="#000" stroke-width="1.6" />
<line x1="204.30" y1="50.80" x2="204.30" y2="58.10" stroke="#000" stroke-width="1.6" />
<line x1="204.30" y1="37.50" x2="204.30" y2="44.80" stroke="#000" stroke-width="1.6" />
<line x1="204.30" y1="24.20" x2="204.30" y2="31.50" stroke="#000" stroke-width="1.6" />
<line x1="204.30" y1="10.90" x2="204.30" y2="18.20" stroke="#000" stroke-width="1.6" />
<text x="56.90" y="26.00" font-size="11.5" text-anchor="middle" >(I)</text>
<text x="102.00" y="26.00" font-size="12" text-anchor="middle" >(II)</text>
<text x="170.30" y="26.00" font-size="12.2" text-anchor="middle" >(III)</text>
<text x="75.50" y="216.00" font-size="11.5" text-anchor="middle" >(i)</text>
<text x="139.20" y="216.00" font-size="11.7" text-anchor="middle" >(ii)</text>
<text x="228.50" y="216.00" font-size="11.5" text-anchor="middle" >(iii)</text>
<text x="256.80" y="218.30" font-size="14" text-anchor="middle" >(a)</text>
<line x1="204.60" y1="118.30" x2="225.00" y2="118.30" stroke="#000000" stroke-width="1.6" />
<text x="227.40" y="121.30" font-size="8.3" text-anchor="start" >1 Cycle</text>
<line x1="204.60" y1="128.80" x2="225.00" y2="128.80" stroke="#ff0000" stroke-width="1.6" />
<text x="227.40" y="131.80" font-size="8.3" text-anchor="start" >50 Cycles</text>
<line x1="204.60" y1="139.30" x2="225.00" y2="139.30" stroke="#00e000" stroke-width="1.6" />
<text x="227.40" y="142.30" font-size="8.3" text-anchor="start" >100 Cycles</text>
<line x1="204.60" y1="149.80" x2="225.00" y2="149.80" stroke="#0000e0" stroke-width="1.6" />
<text x="227.40" y="152.80" font-size="8.3" text-anchor="start" >200 Cycles</text>
<line x1="204.60" y1="160.30" x2="225.00" y2="160.30" stroke="#00ffff" stroke-width="1.6" />
<text x="227.40" y="163.30" font-size="8.3" text-anchor="start" >300 Cycles</text>
<rect x="46.3" y="6.5" width="224.90" height="225.70" fill="none" stroke="#000" stroke-width="1.7"/>
<text transform="translate(13.3,113) rotate(-90)" font-size="13.5" text-anchor="middle"><tspan font-style="italic">E</tspan> / V vs. Li<tspan font-size="7" dy="-6">+</tspan><tspan dy="6">/Li</tspan></text>
<text x="159" y="270.9" font-size="13.5" text-anchor="middle"><tspan font-style="italic">x</tspan> in Li<tspan font-size="7" dy="5" font-style="italic">x</tspan><tspan dy="-5">KCu[Fe(CN)</tspan><tspan font-size="7" dy="5">6</tspan><tspan dy="-5">]</tspan></text>
<line x1="383.97" y1="231.90" x2="383.97" y2="228.60" stroke="#000" stroke-width="1.5" />
<line x1="402.73" y1="231.90" x2="402.73" y2="226.40" stroke="#000" stroke-width="1.5" />
<line x1="421.50" y1="231.90" x2="421.50" y2="228.60" stroke="#000" stroke-width="1.5" />
<line x1="440.27" y1="231.90" x2="440.27" y2="226.40" stroke="#000" stroke-width="1.5" />
<line x1="459.03" y1="231.90" x2="459.03" y2="228.60" stroke="#000" stroke-width="1.5" />
<line x1="477.80" y1="231.90" x2="477.80" y2="226.40" stroke="#000" stroke-width="1.5" />
<line x1="496.57" y1="231.90" x2="496.57" y2="228.60" stroke="#000" stroke-width="1.5" />
<line x1="515.33" y1="231.90" x2="515.33" y2="226.40" stroke="#000" stroke-width="1.5" />
<line x1="534.10" y1="231.90" x2="534.10" y2="228.60" stroke="#000" stroke-width="1.5" />
<line x1="552.87" y1="231.90" x2="552.87" y2="226.40" stroke="#000" stroke-width="1.5" />
<line x1="571.63" y1="231.90" x2="571.63" y2="228.60" stroke="#000" stroke-width="1.5" />
<line x1="380.21" y1="6.70" x2="380.21" y2="10.00" stroke="#000" stroke-width="1.5" />
<line x1="395.23" y1="6.70" x2="395.23" y2="12.20" stroke="#000" stroke-width="1.5" />
<line x1="410.24" y1="6.70" x2="410.24" y2="10.00" stroke="#000" stroke-width="1.5" />
<line x1="425.25" y1="6.70" x2="425.25" y2="12.20" stroke="#000" stroke-width="1.5" />
<line x1="440.27" y1="6.70" x2="440.27" y2="10.00" stroke="#000" stroke-width="1.5" />
<line x1="455.28" y1="6.70" x2="455.28" y2="12.20" stroke="#000" stroke-width="1.5" />
<line x1="470.29" y1="6.70" x2="470.29" y2="10.00" stroke="#000" stroke-width="1.5" />
<line x1="485.31" y1="6.70" x2="485.31" y2="12.20" stroke="#000" stroke-width="1.5" />
<line x1="500.32" y1="6.70" x2="500.32" y2="10.00" stroke="#000" stroke-width="1.5" />
<line x1="515.33" y1="6.70" x2="515.33" y2="12.20" stroke="#000" stroke-width="1.5" />
<line x1="530.35" y1="6.70" x2="530.35" y2="10.00" stroke="#000" stroke-width="1.5" />
<line x1="545.36" y1="6.70" x2="545.36" y2="12.20" stroke="#000" stroke-width="1.5" />
<line x1="560.37" y1="6.70" x2="560.37" y2="10.00" stroke="#000" stroke-width="1.5" />
<line x1="575.39" y1="6.70" x2="575.39" y2="12.20" stroke="#000" stroke-width="1.5" />
<line x1="365.20" y1="213.13" x2="368.50" y2="213.13" stroke="#000" stroke-width="1.5" />
<line x1="365.20" y1="194.37" x2="370.70" y2="194.37" stroke="#000" stroke-width="1.5" />
<line x1="365.20" y1="175.60" x2="368.50" y2="175.60" stroke="#000" stroke-width="1.5" />
<line x1="365.20" y1="156.83" x2="370.70" y2="156.83" stroke="#000" stroke-width="1.5" />
<line x1="365.20" y1="138.07" x2="368.50" y2="138.07" stroke="#000" stroke-width="1.5" />
<line x1="365.20" y1="119.30" x2="370.70" y2="119.30" stroke="#000" stroke-width="1.5" />
<line x1="365.20" y1="100.53" x2="368.50" y2="100.53" stroke="#000" stroke-width="1.5" />
<line x1="365.20" y1="81.77" x2="370.70" y2="81.77" stroke="#000" stroke-width="1.5" />
<line x1="365.20" y1="63.00" x2="368.50" y2="63.00" stroke="#000" stroke-width="1.5" />
<line x1="365.20" y1="44.23" x2="370.70" y2="44.23" stroke="#000" stroke-width="1.5" />
<line x1="365.20" y1="25.47" x2="368.50" y2="25.47" stroke="#000" stroke-width="1.5" />
<line x1="590.40" y1="209.38" x2="587.10" y2="209.38" stroke="#000" stroke-width="1.5" />
<line x1="590.40" y1="186.86" x2="584.90" y2="186.86" stroke="#000" stroke-width="1.5" />
<line x1="590.40" y1="164.34" x2="587.10" y2="164.34" stroke="#000" stroke-width="1.5" />
<line x1="590.40" y1="141.82" x2="584.90" y2="141.82" stroke="#000" stroke-width="1.5" />
<line x1="590.40" y1="119.30" x2="587.10" y2="119.30" stroke="#000" stroke-width="1.5" />
<line x1="590.40" y1="96.78" x2="584.90" y2="96.78" stroke="#000" stroke-width="1.5" />
<line x1="590.40" y1="74.26" x2="587.10" y2="74.26" stroke="#000" stroke-width="1.5" />
<line x1="590.40" y1="51.74" x2="584.90" y2="51.74" stroke="#000" stroke-width="1.5" />
<line x1="590.40" y1="29.22" x2="587.10" y2="29.22" stroke="#000" stroke-width="1.5" />
<text x="365.20" y="248.00" font-size="12.5" text-anchor="middle" >0</text>
<text x="402.73" y="248.00" font-size="12.5" text-anchor="middle" >50</text>
<text x="440.27" y="248.00" font-size="12.5" text-anchor="middle" >100</text>
<text x="477.80" y="248.00" font-size="12.5" text-anchor="middle" >150</text>
<text x="515.33" y="248.00" font-size="12.5" text-anchor="middle" >200</text>
<text x="552.87" y="248.00" font-size="12.5" text-anchor="middle" >250</text>
<text x="590.40" y="248.00" font-size="12.5" text-anchor="middle" >300</text>
<text x="359.00" y="236.00" font-size="12.5" text-anchor="end" >0</text>
<text x="359.00" y="198.00" font-size="12.5" text-anchor="end" >20</text>
<text x="359.00" y="161.00" font-size="12.5" text-anchor="end" >40</text>
<text x="359.00" y="123.00" font-size="12.5" text-anchor="end" >60</text>
<text x="359.00" y="85.00" font-size="12.5" text-anchor="end" >80</text>
<text x="359.00" y="48.00" font-size="12.5" text-anchor="end" >100</text>
<text x="359.00" y="10.00" font-size="12.5" text-anchor="end" >120</text>
<text x="596.50" y="235.00" font-size="12.5" text-anchor="start" >0</text>
<text x="596.50" y="190.00" font-size="12.5" text-anchor="start" >20</text>
<text x="596.50" y="145.00" font-size="12.5" text-anchor="start" >40</text>
<text x="596.50" y="100.00" font-size="12.5" text-anchor="start" >60</text>
<text x="596.50" y="55.00" font-size="12.5" text-anchor="start" >80</text>
<text x="596.50" y="10.00" font-size="12.5" text-anchor="start" >100</text>
<text transform="translate(328.9,129.9) rotate(-90)" font-size="13.5" text-anchor="middle">Specific capacity / mAh g<tspan font-size="8.5" dy="-7.5">-1</tspan></text>
<text transform="translate(633.5,130) rotate(-90)" font-size="13.8" text-anchor="middle">Coulombic efficiency / %</text>
<text x="477.7" y="270.7" font-size="13.5" text-anchor="middle">Cycle Numbers</text>
<path d="M365.95,14.58 L366.70,16.15 L367.45,19.69 L368.20,18.12 L368.95,21.26 L369.70,22.55 L370.45,22.66 L371.21,21.20 L371.96,25.48 L372.71,24.93 L373.46,21.63 L374.21,20.56 L374.96,21.65 L375.71,18.97 L376.46,20.61 L377.21,18.59 L377.96,22.94 L378.71,19.83 L379.46,17.07 L380.21,17.29 L380.96,18.88 L381.71,16.99 L382.47,18.40 L383.22,19.79 L383.97,17.28 L384.72,18.24 L385.47,23.48 L386.22,20.88 L386.97,21.95 L387.72,20.89 L388.47,20.74 L389.22,24.13 L389.97,26.27 L390.72,20.28 L391.47,21.89 L392.22,22.11 L392.97,25.59 L393.73,24.17 L394.48,20.71 L395.23,22.97 L395.98,21.81 L396.73,21.37 L397.48,21.10 L398.23,26.87 L398.98,25.13 L399.73,21.29 L400.48,16.04 L401.23,17.70 L401.98,24.07 L402.73,35.45 L403.48,36.63 L404.23,40.82 L404.99,34.86 L405.74,35.91 L406.49,31.92 L407.24,37.12 L407.99,33.57 L408.74,36.38 L409.49,37.60 L410.24,38.82 L410.99,32.94 L411.74,35.93 L412.49,28.83 L413.24,20.68 L413.99,30.03 L414.74,34.18 L415.49,31.47 L416.25,17.69 L417.00,15.42 L417.75,20.42 L418.50,20.07 L419.25,22.88 L420.00,21.50 L420.75,26.40 L421.50,23.51 L422.25,22.02 L423.00,19.14 L423.75,24.49 L424.50,21.50 L425.25,22.90 L426.00,24.31 L426.75,25.48 L427.51,27.61 L428.26,21.61 L429.01,22.63 L429.76,22.33 L430.51,19.91 L431.26,25.36 L432.01,26.37 L432.76,23.41 L433.51,21.79 L434.26,19.14 L435.01,23.02 L435.76,25.23 L436.51,24.25 L437.26,19.55 L438.01,23.28 L438.77,26.98 L439.52,34.99 L440.27,34.77 L441.02,30.43 L441.77,24.57 L442.52,21.18 L443.27,20.17 L444.02,23.29 L444.77,21.34 L445.52,22.74 L446.27,22.34 L447.02,25.88 L447.77,22.28 L448.52,27.01 L449.27,29.03 L450.03,27.84 L450.78,26.09 L451.53,21.58 L452.28,20.24 L453.03,18.75 L453.78,25.99 L454.53,21.79 L455.28,27.50 L456.03,24.86 L456.78,19.31 L457.53,23.26 L458.28,21.77 L459.03,12.42 L459.78,8.19 L460.53,12.76 L461.29,25.19 L462.04,26.37 L462.79,26.25 L463.54,29.72 L464.29,17.37 L465.04,21.12 L465.79,32.37 L466.54,21.47 L467.29,23.67 L468.04,21.32 L468.79,25.70 L469.54,32.62 L470.29,21.32 L471.04,22.72 L471.79,26.83 L472.55,21.48 L473.30,24.78 L474.05,27.01 L474.80,21.65 L475.55,14.55 L476.30,17.55 L477.05,26.92 L477.80,20.37 L478.55,23.40 L479.30,22.84 L480.05,24.74 L480.80,25.54 L481.55,23.44 L482.30,20.25 L483.05,22.10 L483.81,20.56 L484.56,17.93 L485.31,20.49 L486.06,18.17 L486.81,19.22 L487.56,17.53 L488.31,20.00 L489.06,17.49 L489.81,22.73 L490.56,18.19 L491.31,19.92 L492.06,22.05 L492.81,22.98 L493.56,22.11 L494.31,22.33 L495.07,26.27 L495.82,29.44 L496.57,31.83 L497.32,20.38 L498.07,14.16 L498.82,18.15 L499.57,27.68 L500.32,27.67 L501.07,19.09 L501.82,18.72 L502.57,23.97 L503.32,19.82 L504.07,22.40 L504.82,28.78 L505.57,23.64 L506.33,25.33 L507.08,21.56 L507.83,22.87 L508.58,21.16 L509.33,20.64 L510.08,22.20 L510.83,20.00 L511.58,21.04 L512.33,18.85 L513.08,22.41 L513.83,21.36 L514.58,23.65 L515.33,21.06 L516.08,19.91 L516.83,21.99 L517.59,19.75 L518.34,21.29 L519.09,17.85 L519.84,17.55 L520.59,20.96 L521.34,20.47 L522.09,24.92 L522.84,23.49 L523.59,20.20 L524.34,21.45 L525.09,20.10 L525.84,21.22 L526.59,22.17 L527.34,18.84 L528.09,20.20 L528.85,18.54 L529.60,20.16 L530.35,23.88 L531.10,21.09 L531.85,20.52 L532.60,18.82 L533.35,22.59 L534.10,22.24 L534.85,20.56 L535.60,17.01 L536.35,18.78 L537.10,19.64 L537.85,19.83 L538.60,22.81 L539.35,21.18 L540.11,23.70 L540.86,22.24 L541.61,23.15 L542.36,21.95 L543.11,20.26 L543.86,22.99 L544.61,21.12 L545.36,20.79 L546.11,20.67 L546.86,22.20 L547.61,21.33 L548.36,20.16 L549.11,22.28 L549.86,21.34 L550.61,22.90 L551.37,21.87 L552.12,19.20 L552.87,21.05 L553.62,21.21 L554.37,23.28 L555.12,23.60 L555.87,26.02 L556.62,27.45 L557.37,25.38 L558.12,25.78 L558.87,22.64 L559.62,21.90 L560.37,20.92 L561.12,20.17 L561.87,19.59 L562.63,21.03 L563.38,20.66 L564.13,22.84 L564.88,23.10 L565.63,25.23 L566.38,24.95 L567.13,27.90 L567.88,29.14 L568.63,28.34 L569.38,30.29 L570.13,28.70 L570.88,29.31 L571.63,28.70 L572.38,27.95 L573.13,27.09 L573.89,25.13 L574.64,23.78 L575.39,24.11 L576.14,23.35 L576.89,20.35 L577.64,19.18 L578.39,15.24 L579.14,17.08 L579.89,13.61 L580.64,20.24 L581.39,15.87 L582.14,22.93 L582.89,24.94 L583.64,20.70 L584.39,26.32 L585.15,12.43 L585.90,20.04 L586.65,28.84 L587.40,20.85 L588.15,23.26 L588.90,17.94 L589.65,19.61 L590.40,26.39" fill="none" stroke="#8080ff" stroke-width="0.5"/><path d="M364.80,14.58a1.15,1.15 0 1,0 2.3,0a1.15,1.15 0 1,0 -2.3,0zM365.55,16.15a1.15,1.15 0 1,0 2.3,0a1.15,1.15 0 1,0 -2.3,0zM366.30,19.69a1.15,1.15 0 1,0 2.3,0a1.15,1.15 0 1,0 -2.3,0zM367.05,18.12a1.15,1.15 0 1,0 2.3,0a1.15,1.15 0 1,0 -2.3,0zM367.80,21.26a1.15,1.15 0 1,0 2.3,0a1.15,1.15 0 1,0 -2.3,0zM368.55,22.55a1.15,1.15 0 1,0 2.3,0a1.15,1.15 0 1,0 -2.3,0zM369.30,22.66a1.15,1.15 0 1,0 2.3,0a1.15,1.15 0 1,0 -2.3,0zM370.06,21.20a1.15,1.15 0 1,0 2.3,0a1.15,1.15 0 1,0 -2.3,0zM370.81,25.48a1.15,1.15 0 1,0 2.3,0a1.15,1.15 0 1,0 -2.3,0zM371.56,24.93a1.15,1.15 0 1,0 2.3,0a1.15,1.15 0 1,0 -2.3,0zM372.31,21.63a1.15,1.15 0 1,0 2.3,0a1.15,1.15 0 1,0 -2.3,0zM373.06,20.56a1.15,1.15 0 1,0 2.3,0a1.15,1.15 0 1,0 -2.3,0zM373.81,21.65a1.15,1.15 0 1,0 2.3,0a1.15,1.15 0 1,0 -2.3,0zM374.56,18.97a1.15,1.15 0 1,0 2.3,0a1.15,1.15 0 1,0 -2.3,0zM375.31,20.61a1.15,1.15 0 1,0 2.3,0a1.15,1.15 0 1,0 -2.3,0zM376.06,18.59a1.15,1.15 0 1,0 2.3,0a1.15,1.15 0 1,0 -2.3,0zM376.81,22.94a1.15,1.15 0 1,0 2.3,0a1.15,1.15 0 1,0 -2.3,0zM377.56,19.83a1.15,1.15 0 1,0 2.3,0a1.15,1.15 0 1,0 -2.3,0zM378.31,17.07a1.15,1.15 0 1,0 2.3,0a1.15,1.15 0 1,0 -2.3,0zM379.06,17.29a1.15,1.15 0 1,0 2.3,0a1.15,1.15 0 1,0 -2.3,0zM379.81,18.88a1.15,1.15 0 1,0 2.3,0a1.15,1.15 0 1,0 -2.3,0zM380.56,16.99a1.15,1.15 0 1,0 2.3,0a1.15,1.15 0 1,0 -2.3,0zM381.32,18.40a1.15,1.15 0 1,0 2.3,0a1.15,1.15 0 1,0 -2.3,0zM382.07,19.79a1.15,1.15 0 1,0 2.3,0a1.15,1.15 0 1,0 -2.3,0zM382.82,17.28a1.15,1.15 0 1,0 2.3,0a1.15,1.15 0 1,0 -2.3,0zM383.57,18.24a1.15,1.15 0 1,0 2.3,0a1.15,1.15 0 1,0 -2.3,0zM384.32,23.48a1.15,1.15 0 1,0 2.3,0a1.15,1.15 0 1,0 -2.3,0zM385.07,20.88a1.15,1.15 0 1,0 2.3,0a1.15,1.15 0 1,0 -2.3,0zM385.82,21.95a1.15,1.15 0 1,0 2.3,0a1.15,1.15 0 1,0 -2.3,0zM386.57,20.89a1.15,1.15 0 1,0 2.3,0a1.15,1.15 0 1,0 -2.3,0zM387.32,20.74a1.15,1.15 0 1,0 2.3,0a1.15,1.15 0 1,0 -2.3,0zM388.07,24.13a1.15,1.15 0 1,0 2.3,0a1.15,1.15 0 1,0 -2.3,0zM388.82,26.27a1.15,1.15 0 1,0 2.3,0a1.15,1.15 0 1,0 -2.3,0zM389.57,20.28a1.15,1.15 0 1,0 2.3,0a1.15,1.15 0 1,0 -2.3,0zM390.32,21.89a1.15,1.15 0 1,0 2.3,0a1.15,1.15 0 1,0 -2.3,0zM391.07,22.11a1.15,1.15 0 1,0 2.3,0a1.15,1.15 0 1,0 -2.3,0zM391.82,25.59a1.15,1.15 0 1,0 2.3,0a1.15,1.15 0 1,0 -2.3,0zM392.58,24.17a1.15,1.15 0 1,0 2.3,0a1.15,1.15 0 1,0 -2.3,0zM393.33,20.71a1.15,1.15 0 1,0 2.3,0a1.15,1.15 0 1,0 -2.3,0zM394.08,22.97a1.15,1.15 0 1,0 2.3,0a1.15,1.15 0 1,0 -2.3,0zM394.83,21.81a1.15,1.15 0 1,0 2.3,0a1.15,1.15 0 1,0 -2.3,0zM395.58,21.37a1.15,1.15 0 1,0 2.3,0a1.15,1.15 0 1,0 -2.3,0zM396.33,21.10a1.15,1.15 0 1,0 2.3,0a1.15,1.15 0 1,0 -2.3,0zM397.08,26.87a1.15,1.15 0 1,0 2.3,0a1.15,1.15 0 1,0 -2.3,0zM397.83,25.13a1.15,1.15 0 1,0 2.3,0a1.15,1.15 0 1,0 -2.3,0zM398.58,21.29a1.15,1.15 0 1,0 2.3,0a1.15,1.15 0 1,0 -2.3,0zM399.33,16.04a1.15,1.15 0 1,0 2.3,0a1.15,1.15 0 1,0 -2.3,0zM400.08,17.70a1.15,1.15 0 1,0 2.3,0a1.15,1.15 0 1,0 -2.3,0zM400.83,24.07a1.15,1.15 0 1,0 2.3,0a1.15,1.15 0 1,0 -2.3,0zM401.58,35.45a1.15,1.15 0 1,0 2.3,0a1.15,1.15 0 1,0 -2.3,0zM402.33,36.63a1.15,1.15 0 1,0 2.3,0a1.15,1.15 0 1,0 -2.3,0zM403.08,40.82a1.15,1.15 0 1,0 2.3,0a1.15,1.15 0 1,0 -2.3,0zM403.84,34.86a1.15,1.15 0 1,0 2.3,0a1.15,1.15 0 1,0 -2.3,0zM404.59,35.91a1.15,1.15 0 1,0 2.3,0a1.15,1.15 0 1,0 -2.3,0zM405.34,31.92a1.15,1.15 0 1,0 2.3,0a1.15,1.15 0 1,0 -2.3,0zM406.09,37.12a1.15,1.15 0 1,0 2.3,0a1.15,1.15 0 1,0 -2.3,0zM406.84,33.57a1.15,1.15 0 1,0 2.3,0a1.15,1.15 0 1,0 -2.3,0zM407.59,36.38a1.15,1.15 0 1,0 2.3,0a1.15,1.15 0 1,0 -2.3,0zM408.34,37.60a1.15,1.15 0 1,0 2.3,0a1.15,1.15 0 1,0 -2.3,0zM409.09,38.82a1.15,1.15 0 1,0 2.3,0a1.15,1.15 0 1,0 -2.3,0zM409.84,32.94a1.15,1.15 0 1,0 2.3,0a1.15,1.15 0 1,0 -2.3,0zM410.59,35.93a1.15,1.15 0 1,0 2.3,0a1.15,1.15 0 1,0 -2.3,0zM411.34,28.83a1.15,1.15 0 1,0 2.3,0a1.15,1.15 0 1,0 -2.3,0zM412.09,20.68a1.15,1.15 0 1,0 2.3,0a1.15,1.15 0 1,0 -2.3,0zM412.84,30.03a1.15,1.15 0 1,0 2.3,0a1.15,1.15 0 1,0 -2.3,0zM413.59,34.18a1.15,1.15 0 1,0 2.3,0a1.15,1.15 0 1,0 -2.3,0zM414.34,31.47a1.15,1.15 0 1,0 2.3,0a1.15,1.15 0 1,0 -2.3,0zM415.10,17.69a1.15,1.15 0 1,0 2.3,0a1.15,1.15 0 1,0 -2.3,0zM415.85,15.42a1.15,1.15 0 1,0 2.3,0a1.15,1.15 0 1,0 -2.3,0zM416.60,20.42a1.15,1.15 0 1,0 2.3,0a1.15,1.15 0 1,0 -2.3,0zM417.35,20.07a1.15,1.15 0 1,0 2.3,0a1.15,1.15 0 1,0 -2.3,0zM418.10,22.88a1.15,1.15 0 1,0 2.3,0a1.15,1.15 0 1,0 -2.3,0zM418.85,21.50a1.15,1.15 0 1,0 2.3,0a1.15,1.15 0 1,0 -2.3,0zM419.60,26.40a1.15,1.15 0 1,0 2.3,0a1.15,1.15 0 1,0 -2.3,0zM420.35,23.51a1.15,1.15 0 1,0 2.3,0a1.15,1.15 0 1,0 -2.3,0zM421.10,22.02a1.15,1.15 0 1,0 2.3,0a1.15,1.15 0 1,0 -2.3,0zM421.85,19.14a1.15,1.15 0 1,0 2.3,0a1.15,1.15 0 1,0 -2.3,0zM422.60,24.49a1.15,1.15 0 1,0 2.3,0a1.15,1.15 0 1,0 -2.3,0zM423.35,21.50a1.15,1.15 0 1,0 2.3,0a1.15,1.15 0 1,0 -2.3,0zM424.10,22.90a1.15,1.15 0 1,0 2.3,0a1.15,1.15 0 1,0 -2.3,0zM424.85,24.31a1.15,1.15 0 1,0 2.3,0a1.15,1.15 0 1,0 -2.3,0zM425.60,25.48a1.15,1.15 0 1,0 2.3,0a1.15,1.15 0 1,0 -2.3,0zM426.36,27.61a1.15,1.15 0 1,0 2.3,0a1.15,1.15 0 1,0 -2.3,0zM427.11,21.61a1.15,1.15 0 1,0 2.3,0a1.15,1.15 0 1,0 -2.3,0zM427.86,22.63a1.15,1.15 0 1,0 2.3,0a1.15,1.15 0 1,0 -2.3,0zM428.61,22.33a1.15,1.15 0 1,0 2.3,0a1.15,1.15 0 1,0 -2.3,0zM429.36,19.91a1.15,1.15 0 1,0 2.3,0a1.15,1.15 0 1,0 -2.3,0zM430.11,25.36a1.15,1.15 0 1,0 2.3,0a1.15,1.15 0 1,0 -2.3,0zM430.86,26.37a1.15,1.15 0 1,0 2.3,0a1.15,1.15 0 1,0 -2.3,0zM431.61,23.41a1.15,1.15 0 1,0 2.3,0a1.15,1.15 0 1,0 -2.3,0zM432.36,21.79a1.15,1.15 0 1,0 2.3,0a1.15,1.15 0 1,0 -2.3,0zM433.11,19.14a1.15,1.15 0 1,0 2.3,0a1.15,1.15 0 1,0 -2.3,0zM433.86,23.02a1.15,1.15 0 1,0 2.3,0a1.15,1.15 0 1,0 -2.3,0zM434.61,25.23a1.15,1.15 0 1,0 2.3,0a1.15,1.15 0 1,0 -2.3,0zM435.36,24.25a1.15,1.15 0 1,0 2.3,0a1.15,1.15 0 1,0 -2.3,0zM436.11,19.55a1.15,1.15 0 1,0 2.3,0a1.15,1.15 0 1,0 -2.3,0zM436.86,23.28a1.15,1.15 0 1,0 2.3,0a1.15,1.15 0 1,0 -2.3,0zM437.62,26.98a1.15,1.15 0 1,0 2.3,0a1.15,1.15 0 1,0 -2.3,0zM438.37,34.99a1.15,1.15 0 1,0 2.3,0a1.15,1.15 0 1,0 -2.3,0zM439.12,34.77a1.15,1.15 0 1,0 2.3,0a1.15,1.15 0 1,0 -2.3,0zM439.87,30.43a1.15,1.15 0 1,0 2.3,0a1.15,1.15 0 1,0 -2.3,0zM440.62,24.57a1.15,1.15 0 1,0 2.3,0a1.15,1.15 0 1,0 -2.3,0zM441.37,21.18a1.15,1.15 0 1,0 2.3,0a1.15,1.15 0 1,0 -2.3,0zM442.12,20.17a1.15,1.15 0 1,0 2.3,0a1.15,1.15 0 1,0 -2.3,0zM442.87,23.29a1.15,1.15 0 1,0 2.3,0a1.15,1.15 0 1,0 -2.3,0zM443.62,21.34a1.15,1.15 0 1,0 2.3,0a1.15,1.15 0 1,0 -2.3,0zM444.37,22.74a1.15,1.15 0 1,0 2.3,0a1.15,1.15 0 1,0 -2.3,0zM445.12,22.34a1.15,1.15 0 1,0 2.3,0a1.15,1.15 0 1,0 -2.3,0zM445.87,25.88a1.15,1.15 0 1,0 2.3,0a1.15,1.15 0 1,0 -2.3,0zM446.62,22.28a1.15,1.15 0 1,0 2.3,0a1.15,1.15 0 1,0 -2.3,0zM447.37,27.01a1.15,1.15 0 1,0 2.3,0a1.15,1.15 0 1,0 -2.3,0zM448.12,29.03a1.15,1.15 0 1,0 2.3,0a1.15,1.15 0 1,0 -2.3,0zM448.88,27.84a1.15,1.15 0 1,0 2.3,0a1.15,1.15 0 1,0 -2.3,0zM449.63,26.09a1.15,1.15 0 1,0 2.3,0a1.15,1.15 0 1,0 -2.3,0zM450.38,21.58a1.15,1.15 0 1,0 2.3,0a1.15,1.15 0 1,0 -2.3,0zM451.13,20.24a1.15,1.15 0 1,0 2.3,0a1.15,1.15 0 1,0 -2.3,0zM451.88,18.75a1.15,1.15 0 1,0 2.3,0a1.15,1.15 0 1,0 -2.3,0zM452.63,25.99a1.15,1.15 0 1,0 2.3,0a1.15,1.15 0 1,0 -2.3,0zM453.38,21.79a1.15,1.15 0 1,0 2.3,0a1.15,1.15 0 1,0 -2.3,0zM454.13,27.50a1.15,1.15 0 1,0 2.3,0a1.15,1.15 0 1,0 -2.3,0zM454.88,24.86a1.15,1.15 0 1,0 2.3,0a1.15,1.15 0 1,0 -2.3,0zM455.63,19.31a1.15,1.15 0 1,0 2.3,0a1.15,1.15 0 1,0 -2.3,0zM456.38,23.26a1.15,1.15 0 1,0 2.3,0a1.15,1.15 0 1,0 -2.3,0zM457.13,21.77a1.15,1.15 0 1,0 2.3,0a1.15,1.15 0 1,0 -2.3,0zM457.88,12.42a1.15,1.15 0 1,0 2.3,0a1.15,1.15 0 1,0 -2.3,0zM458.63,8.19a1.15,1.15 0 1,0 2.3,0a1.15,1.15 0 1,0 -2.3,0zM459.38,12.76a1.15,1.15 0 1,0 2.3,0a1.15,1.15 0 1,0 -2.3,0zM460.14,25.19a1.15,1.15 0 1,0 2.3,0a1.15,1.15 0 1,0 -2.3,0zM460.89,26.37a1.15,1.15 0 1,0 2.3,0a1.15,1.15 0 1,0 -2.3,0zM461.64,26.25a1.15,1.15 0 1,0 2.3,0a1.15,1.15 0 1,0 -2.3,0zM462.39,29.72a1.15,1.15 0 1,0 2.3,0a1.15,1.15 0 1,0 -2.3,0zM463.14,17.37a1.15,1.15 0 1,0 2.3,0a1.15,1.15 0 1,0 -2.3,0zM463.89,21.12a1.15,1.15 0 1,0 2.3,0a1.15,1.15 0 1,0 -2.3,0zM464.64,32.37a1.15,1.15 0 1,0 2.3,0a1.15,1.15 0 1,0 -2.3,0zM465.39,21.47a1.15,1.15 0 1,0 2.3,0a1.15,1.15 0 1,0 -2.3,0zM466.14,23.67a1.15,1.15 0 1,0 2.3,0a1.15,1.15 0 1,0 -2.3,0zM466.89,21.32a1.15,1.15 0 1,0 2.3,0a1.15,1.15 0 1,0 -2.3,0zM467.64,25.70a1.15,1.15 0 1,0 2.3,0a1.15,1.15 0 1,0 -2.3,0zM468.39,32.62a1.15,1.15 0 1,0 2.3,0a1.15,1.15 0 1,0 -2.3,0zM469.14,21.32a1.15,1.15 0 1,0 2.3,0a1.15,1.15 0 1,0 -2.3,0zM469.89,22.72a1.15,1.15 0 1,0 2.3,0a1.15,1.15 0 1,0 -2.3,0zM470.64,26.83a1.15,1.15 0 1,0 2.3,0a1.15,1.15 0 1,0 -2.3,0zM471.40,21.48a1.15,1.15 0 1,0 2.3,0a1.15,1.15 0 1,0 -2.3,0zM472.15,24.78a1.15,1.15 0 1,0 2.3,0a1.15,1.15 0 1,0 -2.3,0zM472.90,27.01a1.15,1.15 0 1,0 2.3,0a1.15,1.15 0 1,0 -2.3,0zM473.65,21.65a1.15,1.15 0 1,0 2.3,0a1.15,1.15 0 1,0 -2.3,0zM474.40,14.55a1.15,1.15 0 1,0 2.3,0a1.15,1.15 0 1,0 -2.3,0zM475.15,17.55a1.15,1.15 0 1,0 2.3,0a1.15,1.15 0 1,0 -2.3,0zM475.90,26.92a1.15,1.15 0 1,0 2.3,0a1.15,1.15 0 1,0 -2.3,0zM476.65,20.37a1.15,1.15 0 1,0 2.3,0a1.15,1.15 0 1,0 -2.3,0zM477.40,23.40a1.15,1.15 0 1,0 2.3,0a1.15,1.15 0 1,0 -2.3,0zM478.15,22.84a1.15,1.15 0 1,0 2.3,0a1.15,1.15 0 1,0 -2.3,0zM478.90,24.74a1.15,1.15 0 1,0 2.3,0a1.15,1.15 0 1,0 -2.3,0zM479.65,25.54a1.15,1.15 0 1,0 2.3,0a1.15,1.15 0 1,0 -2.3,0zM480.40,23.44a1.15,1.15 0 1,0 2.3,0a1.15,1.15 0 1,0 -2.3,0zM481.15,20.25a1.15,1.15 0 1,0 2.3,0a1.15,1.15 0 1,0 -2.3,0zM481.90,22.10a1.15,1.15 0 1,0 2.3,0a1.15,1.15 0 1,0 -2.3,0zM482.66,20.56a1.15,1.15 0 1,0 2.3,0a1.15,1.15 0 1,0 -2.3,0zM483.41,17.93a1.15,1.15 0 1,0 2.3,0a1.15,1.15 0 1,0 -2.3,0zM484.16,20.49a1.15,1.15 0 1,0 2.3,0a1.15,1.15 0 1,0 -2.3,0zM484.91,18.17a1.15,1.15 0 1,0 2.3,0a1.15,1.15 0 1,0 -2.3,0zM485.66,19.22a1.15,1.15 0 1,0 2.3,0a1.15,1.15 0 1,0 -2.3,0zM486.41,17.53a1.15,1.15 0 1,0 2.3,0a1.15,1.15 0 1,0 -2.3,0zM487.16,20.00a1.15,1.15 0 1,0 2.3,0a1.15,1.15 0 1,0 -2.3,0zM487.91,17.49a1.15,1.15 0 1,0 2.3,0a1.15,1.15 0 1,0 -2.3,0zM488.66,22.73a1.15,1.15 0 1,0 2.3,0a1.15,1.15 0 1,0 -2.3,0zM489.41,18.19a1.15,1.15 0 1,0 2.3,0a1.15,1.15 0 1,0 -2.3,0zM490.16,19.92a1.15,1.15 0 1,0 2.3,0a1.15,1.15 0 1,0 -2.3,0zM490.91,22.05a1.15,1.15 0 1,0 2.3,0a1.15,1.15 0 1,0 -2.3,0zM491.66,22.98a1.15,1.15 0 1,0 2.3,0a1.15,1.15 0 1,0 -2.3,0zM492.41,22.11a1.15,1.15 0 1,0 2.3,0a1.15,1.15 0 1,0 -2.3,0zM493.16,22.33a1.15,1.15 0 1,0 2.3,0a1.15,1.15 0 1,0 -2.3,0zM493.92,26.27a1.15,1.15 0 1,0 2.3,0a1.15,1.15 0 1,0 -2.3,0zM494.67,29.44a1.15,1.15 0 1,0 2.3,0a1.15,1.15 0 1,0 -2.3,0zM495.42,31.83a1.15,1.15 0 1,0 2.3,0a1.15,1.15 0 1,0 -2.3,0zM496.17,20.38a1.15,1.15 0 1,0 2.3,0a1.15,1.15 0 1,0 -2.3,0zM496.92,14.16a1.15,1.15 0 1,0 2.3,0a1.15,1.15 0 1,0 -2.3,0zM497.67,18.15a1.15,1.15 0 1,0 2.3,0a1.15,1.15 0 1,0 -2.3,0zM498.42,27.68a1.15,1.15 0 1,0 2.3,0a1.15,1.15 0 1,0 -2.3,0zM499.17,27.67a1.15,1.15 0 1,0 2.3,0a1.15,1.15 0 1,0 -2.3,0zM499.92,19.09a1.15,1.15 0 1,0 2.3,0a1.15,1.15 0 1,0 -2.3,0zM500.67,18.72a1.15,1.15 0 1,0 2.3,0a1.15,1.15 0 1,0 -2.3,0zM501.42,23.97a1.15,1.15 0 1,0 2.3,0a1.15,1.15 0 1,0 -2.3,0zM502.17,19.82a1.15,1.15 0 1,0 2.3,0a1.15,1.15 0 1,0 -2.3,0zM502.92,22.40a1.15,1.15 0 1,0 2.3,0a1.15,1.15 0 1,0 -2.3,0zM503.67,28.78a1.15,1.15 0 1,0 2.3,0a1.15,1.15 0 1,0 -2.3,0zM504.42,23.64a1.15,1.15 0 1,0 2.3,0a1.15,1.15 0 1,0 -2.3,0zM505.18,25.33a1.15,1.15 0 1,0 2.3,0a1.15,1.15 0 1,0 -2.3,0zM505.93,21.56a1.15,1.15 0 1,0 2.3,0a1.15,1.15 0 1,0 -2.3,0zM506.68,22.87a1.15,1.15 0 1,0 2.3,0a1.15,1.15 0 1,0 -2.3,0zM507.43,21.16a1.15,1.15 0 1,0 2.3,0a1.15,1.15 0 1,0 -2.3,0zM508.18,20.64a1.15,1.15 0 1,0 2.3,0a1.15,1.15 0 1,0 -2.3,0zM508.93,22.20a1.15,1.15 0 1,0 2.3,0a1.15,1.15 0 1,0 -2.3,0zM509.68,20.00a1.15,1.15 0 1,0 2.3,0a1.15,1.15 0 1,0 -2.3,0zM510.43,21.04a1.15,1.15 0 1,0 2.3,0a1.15,1.15 0 1,0 -2.3,0zM511.18,18.85a1.15,1.15 0 1,0 2.3,0a1.15,1.15 0 1,0 -2.3,0zM511.93,22.41a1.15,1.15 0 1,0 2.3,0a1.15,1.15 0 1,0 -2.3,0zM512.68,21.36a1.15,1.15 0 1,0 2.3,0a1.15,1.15 0 1,0 -2.3,0zM513.43,23.65a1.15,1.15 0 1,0 2.3,0a1.15,1.15 0 1,0 -2.3,0zM514.18,21.06a1.15,1.15 0 1,0 2.3,0a1.15,1.15 0 1,0 -2.3,0zM514.93,19.91a1.15,1.15 0 1,0 2.3,0a1.15,1.15 0 1,0 -2.3,0zM515.68,21.99a1.15,1.15 0 1,0 2.3,0a1.15,1.15 0 1,0 -2.3,0zM516.44,19.75a1.15,1.15 0 1,0 2.3,0a1.15,1.15 0 1,0 -2.3,0zM517.19,21.29a1.15,1.15 0 1,0 2.3,0a1.15,1.15 0 1,0 -2.3,0zM517.94,17.85a1.15,1.15 0 1,0 2.3,0a1.15,1.15 0 1,0 -2.3,0zM518.69,17.55a1.15,1.15 0 1,0 2.3,0a1.15,1.15 0 1,0 -2.3,0zM519.44,20.96a1.15,1.15 0 1,0 2.3,0a1.15,1.15 0 1,0 -2.3,0zM520.19,20.47a1.15,1.15 0 1,0 2.3,0a1.15,1.15 0 1,0 -2.3,0zM520.94,24.92a1.15,1.15 0 1,0 2.3,0a1.15,1.15 0 1,0 -2.3,0zM521.69,23.49a1.15,1.15 0 1,0 2.3,0a1.15,1.15 0 1,0 -2.3,0zM522.44,20.20a1.15,1.15 0 1,0 2.3,0a1.15,1.15 0 1,0 -2.3,0zM523.19,21.45a1.15,1.15 0 1,0 2.3,0a1.15,1.15 0 1,0 -2.3,0zM523.94,20.10a1.15,1.15 0 1,0 2.3,0a1.15,1.15 0 1,0 -2.3,0zM524.69,21.22a1.15,1.15 0 1,0 2.3,0a1.15,1.15 0 1,0 -2.3,0zM525.44,22.17a1.15,1.15 0 1,0 2.3,0a1.15,1.15 0 1,0 -2.3,0zM526.19,18.84a1.15,1.15 0 1,0 2.3,0a1.15,1.15 0 1,0 -2.3,0zM526.94,20.20a1.15,1.15 0 1,0 2.3,0a1.15,1.15 0 1,0 -2.3,0zM527.70,18.54a1.15,1.15 0 1,0 2.3,0a1.15,1.15 0 1,0 -2.3,0zM528.45,20.16a1.15,1.15 0 1,0 2.3,0a1.15,1.15 0 1,0 -2.3,0zM529.20,23.88a1.15,1.15 0 1,0 2.3,0a1.15,1.15 0 1,0 -2.3,0zM529.95,21.09a1.15,1.15 0 1,0 2.3,0a1.15,1.15 0 1,0 -2.3,0zM530.70,20.52a1.15,1.15 0 1,0 2.3,0a1.15,1.15 0 1,0 -2.3,0zM531.45,18.82a1.15,1.15 0 1,0 2.3,0a1.15,1.15 0 1,0 -2.3,0zM532.20,22.59a1.15,1.15 0 1,0 2.3,0a1.15,1.15 0 1,0 -2.3,0zM532.95,22.24a1.15,1.15 0 1,0 2.3,0a1.15,1.15 0 1,0 -2.3,0zM533.70,20.56a1.15,1.15 0 1,0 2.3,0a1.15,1.15 0 1,0 -2.3,0zM534.45,17.01a1.15,1.15 0 1,0 2.3,0a1.15,1.15 0 1,0 -2.3,0zM535.20,18.78a1.15,1.15 0 1,0 2.3,0a1.15,1.15 0 1,0 -2.3,0zM535.95,19.64a1.15,1.15 0 1,0 2.3,0a1.15,1.15 0 1,0 -2.3,0zM536.70,19.83a1.15,1.15 0 1,0 2.3,0a1.15,1.15 0 1,0 -2.3,0zM537.45,22.81a1.15,1.15 0 1,0 2.3,0a1.15,1.15 0 1,0 -2.3,0zM538.20,21.18a1.15,1.15 0 1,0 2.3,0a1.15,1.15 0 1,0 -2.3,0zM538.96,23.70a1.15,1.15 0 1,0 2.3,0a1.15,1.15 0 1,0 -2.3,0zM539.71,22.24a1.15,1.15 0 1,0 2.3,0a1.15,1.15 0 1,0 -2.3,0zM540.46,23.15a1.15,1.15 0 1,0 2.3,0a1.15,1.15 0 1,0 -2.3,0zM541.21,21.95a1.15,1.15 0 1,0 2.3,0a1.15,1.15 0 1,0 -2.3,0zM541.96,20.26a1.15,1.15 0 1,0 2.3,0a1.15,1.15 0 1,0 -2.3,0zM542.71,22.99a1.15,1.15 0 1,0 2.3,0a1.15,1.15 0 1,0 -2.3,0zM543.46,21.12a1.15,1.15 0 1,0 2.3,0a1.15,1.15 0 1,0 -2.3,0zM544.21,20.79a1.15,1.15 0 1,0 2.3,0a1.15,1.15 0 1,0 -2.3,0zM544.96,20.67a1.15,1.15 0 1,0 2.3,0a1.15,1.15 0 1,0 -2.3,0zM545.71,22.20a1.15,1.15 0 1,0 2.3,0a1.15,1.15 0 1,0 -2.3,0zM546.46,21.33a1.15,1.15 0 1,0 2.3,0a1.15,1.15 0 1,0 -2.3,0zM547.21,20.16a1.15,1.15 0 1,0 2.3,0a1.15,1.15 0 1,0 -2.3,0zM547.96,22.28a1.15,1.15 0 1,0 2.3,0a1.15,1.15 0 1,0 -2.3,0zM548.71,21.34a1.15,1.15 0 1,0 2.3,0a1.15,1.15 0 1,0 -2.3,0zM549.46,22.90a1.15,1.15 0 1,0 2.3,0a1.15,1.15 0 1,0 -2.3,0zM550.22,21.87a1.15,1.15 0 1,0 2.3,0a1.15,1.15 0 1,0 -2.3,0zM550.97,19.20a1.15,1.15 0 1,0 2.3,0a1.15,1.15 0 1,0 -2.3,0zM551.72,21.05a1.15,1.15 0 1,0 2.3,0a1.15,1.15 0 1,0 -2.3,0zM552.47,21.21a1.15,1.15 0 1,0 2.3,0a1.15,1.15 0 1,0 -2.3,0zM553.22,23.28a1.15,1.15 0 1,0 2.3,0a1.15,1.15 0 1,0 -2.3,0zM553.97,23.60a1.15,1.15 0 1,0 2.3,0a1.15,1.15 0 1,0 -2.3,0zM554.72,26.02a1.15,1.15 0 1,0 2.3,0a1.15,1.15 0 1,0 -2.3,0zM555.47,27.45a1.15,1.15 0 1,0 2.3,0a1.15,1.15 0 1,0 -2.3,0zM556.22,25.38a1.15,1.15 0 1,0 2.3,0a1.15,1.15 0 1,0 -2.3,0zM556.97,25.78a1.15,1.15 0 1,0 2.3,0a1.15,1.15 0 1,0 -2.3,0zM557.72,22.64a1.15,1.15 0 1,0 2.3,0a1.15,1.15 0 1,0 -2.3,0zM558.47,21.90a1.15,1.15 0 1,0 2.3,0a1.15,1.15 0 1,0 -2.3,0zM559.22,20.92a1.15,1.15 0 1,0 2.3,0a1.15,1.15 0 1,0 -2.3,0zM559.97,20.17a1.15,1.15 0 1,0 2.3,0a1.15,1.15 0 1,0 -2.3,0zM560.72,19.59a1.15,1.15 0 1,0 2.3,0a1.15,1.15 0 1,0 -2.3,0zM561.48,21.03a1.15,1.15 0 1,0 2.3,0a1.15,1.15 0 1,0 -2.3,0zM562.23,20.66a1.15,1.15 0 1,0 2.3,0a1.15,1.15 0 1,0 -2.3,0zM562.98,22.84a1.15,1.15 0 1,0 2.3,0a1.15,1.15 0 1,0 -2.3,0zM563.73,23.10a1.15,1.15 0 1,0 2.3,0a1.15,1.15 0 1,0 -2.3,0zM564.48,25.23a1.15,1.15 0 1,0 2.3,0a1.15,1.15 0 1,0 -2.3,0zM565.23,24.95a1.15,1.15 0 1,0 2.3,0a1.15,1.15 0 1,0 -2.3,0zM565.98,27.90a1.15,1.15 0 1,0 2.3,0a1.15,1.15 0 1,0 -2.3,0zM566.73,29.14a1.15,1.15 0 1,0 2.3,0a1.15,1.15 0 1,0 -2.3,0zM567.48,28.34a1.15,1.15 0 1,0 2.3,0a1.15,1.15 0 1,0 -2.3,0zM568.23,30.29a1.15,1.15 0 1,0 2.3,0a1.15,1.15 0 1,0 -2.3,0zM568.98,28.70a1.15,1.15 0 1,0 2.3,0a1.15,1.15 0 1,0 -2.3,0zM569.73,29.31a1.15,1.15 0 1,0 2.3,0a1.15,1.15 0 1,0 -2.3,0zM570.48,28.70a1.15,1.15 0 1,0 2.3,0a1.15,1.15 0 1,0 -2.3,0zM571.23,27.95a1.15,1.15 0 1,0 2.3,0a1.15,1.15 0 1,0 -2.3,0zM571.98,27.09a1.15,1.15 0 1,0 2.3,0a1.15,1.15 0 1,0 -2.3,0zM572.74,25.13a1.15,1.15 0 1,0 2.3,0a1.15,1.15 0 1,0 -2.3,0zM573.49,23.78a1.15,1.15 0 1,0 2.3,0a1.15,1.15 0 1,0 -2.3,0zM574.24,24.11a1.15,1.15 0 1,0 2.3,0a1.15,1.15 0 1,0 -2.3,0zM574.99,23.35a1.15,1.15 0 1,0 2.3,0a1.15,1.15 0 1,0 -2.3,0zM575.74,20.35a1.15,1.15 0 1,0 2.3,0a1.15,1.15 0 1,0 -2.3,0zM576.49,19.18a1.15,1.15 0 1,0 2.3,0a1.15,1.15 0 1,0 -2.3,0zM577.24,15.24a1.15,1.15 0 1,0 2.3,0a1.15,1.15 0 1,0 -2.3,0zM577.99,17.08a1.15,1.15 0 1,0 2.3,0a1.15,1.15 0 1,0 -2.3,0zM578.74,13.61a1.15,1.15 0 1,0 2.3,0a1.15,1.15 0 1,0 -2.3,0zM579.49,20.24a1.15,1.15 0 1,0 2.3,0a1.15,1.15 0 1,0 -2.3,0zM580.24,15.87a1.15,1.15 0 1,0 2.3,0a1.15,1.15 0 1,0 -2.3,0zM580.99,22.93a1.15,1.15 0 1,0 2.3,0a1.15,1.15 0 1,0 -2.3,0zM581.74,24.94a1.15,1.15 0 1,0 2.3,0a1.15,1.15 0 1,0 -2.3,0zM582.49,20.70a1.15,1.15 0 1,0 2.3,0a1.15,1.15 0 1,0 -2.3,0zM583.24,26.32a1.15,1.15 0 1,0 2.3,0a1.15,1.15 0 1,0 -2.3,0zM584.00,12.43a1.15,1.15 0 1,0 2.3,0a1.15,1.15 0 1,0 -2.3,0zM584.75,20.04a1.15,1.15 0 1,0 2.3,0a1.15,1.15 0 1,0 -2.3,0zM585.50,28.84a1.15,1.15 0 1,0 2.3,0a1.15,1.15 0 1,0 -2.3,0zM586.25,20.85a1.15,1.15 0 1,0 2.3,0a1.15,1.15 0 1,0 -2.3,0zM587.00,23.26a1.15,1.15 0 1,0 2.3,0a1.15,1.15 0 1,0 -2.3,0zM587.75,17.94a1.15,1.15 0 1,0 2.3,0a1.15,1.15 0 1,0 -2.3,0zM588.50,19.61a1.15,1.15 0 1,0 2.3,0a1.15,1.15 0 1,0 -2.3,0zM589.25,26.39a1.15,1.15 0 1,0 2.3,0a1.15,1.15 0 1,0 -2.3,0z" fill="#0000ff"/>
<path d="M365.95,115.73 L366.70,114.62 L367.45,115.03 L368.20,118.80 L368.95,115.48 L369.70,115.65 L370.45,112.17 L371.21,110.20 L371.96,109.70 L372.71,111.29 L373.46,108.94 L374.21,109.90 L374.96,106.27 L375.71,108.77 L376.46,107.48 L377.21,109.82 L377.96,107.95 L378.71,111.92 L379.46,113.91 L380.21,115.15 L380.96,115.96 L381.71,113.26 L382.47,114.87 L383.22,112.73 L383.97,114.31 L384.72,109.69 L385.47,111.92 L386.22,106.89 L386.97,106.59 L387.72,109.39 L388.47,108.46 L389.22,105.79 L389.97,107.34 L390.72,107.23 L391.47,107.04 L392.22,107.35 L392.97,104.18 L393.73,106.44 L394.48,103.63 L395.23,105.92 L395.98,102.81 L396.73,101.35 L397.48,101.55 L398.23,101.19 L398.98,102.31 L399.73,99.02 L400.48,103.30 L401.23,104.04 L401.98,102.33 L402.73,102.68 L403.48,76.16 L404.23,67.08 L404.99,64.92 L405.74,66.29 L406.49,64.58 L407.24,63.67 L407.99,63.77 L408.74,61.57 L409.49,60.41 L410.24,61.41 L410.99,60.13 L411.74,64.64 L412.49,73.41 L413.24,83.81 L413.99,92.28 L414.74,98.74 L415.49,106.10 L416.25,106.77 L417.00,110.53 L417.75,111.48 L418.50,110.75 L419.25,113.69 L420.00,112.05 L420.75,108.09 L421.50,108.72 L422.25,105.55 L423.00,109.21 L423.75,108.71 L424.50,112.69 L425.25,113.22 L426.00,110.16 L426.75,112.03 L427.51,108.09 L428.26,108.67 L429.01,111.44 L429.76,109.93 L430.51,111.17 L431.26,110.63 L432.01,108.12 L432.76,109.90 L433.51,108.22 L434.26,111.45 L435.01,107.89 L435.76,107.64 L436.51,110.07 L437.26,107.15 L438.01,108.17 L438.77,105.11 L439.52,100.15 L440.27,98.40 L441.02,96.06 L441.77,97.03 L442.52,103.08 L443.27,101.24 L444.02,101.43 L444.77,104.69 L445.52,102.65 L446.27,105.78 L447.02,103.61 L447.77,106.77 L448.52,102.72 L449.27,104.32 L450.03,100.18 L450.78,98.72 L451.53,100.82 L452.28,99.76 L453.03,104.79 L453.78,103.41 L454.53,106.94 L455.28,107.86 L456.03,106.82 L456.78,108.59 L457.53,112.33 L458.28,114.75 L459.03,117.52 L459.78,117.55 L460.53,122.16 L461.29,116.74 L462.04,112.48 L462.79,111.05 L463.54,111.67 L464.29,108.75 L465.04,111.12 L465.79,112.85 L466.54,109.74 L467.29,110.79 L468.04,107.65 L468.79,109.87 L469.54,106.10 L470.29,102.94 L471.04,103.05 L471.79,101.83 L472.55,104.35 L473.30,106.52 L474.05,108.41 L474.80,106.38 L475.55,108.14 L476.30,106.16 L477.05,109.51 L477.80,107.56 L478.55,107.25 L479.30,108.24 L480.05,109.08 L480.80,109.42 L481.55,109.93 L482.30,113.62 L483.05,111.69 L483.81,112.49 L484.56,116.35 L485.31,118.30 L486.06,116.64 L486.81,121.58 L487.56,123.41 L488.31,125.99 L489.06,123.73 L489.81,119.75 L490.56,114.60 L491.31,112.48 L492.06,106.57 L492.81,107.85 L493.56,105.39 L494.31,107.46 L495.07,105.19 L495.82,106.83 L496.57,103.91 L497.32,106.60 L498.07,105.21 L498.82,106.99 L499.57,105.74 L500.32,108.13 L501.07,107.68 L501.82,105.44 L502.57,106.03 L503.32,107.20 L504.07,105.31 L504.82,106.79 L505.57,106.33 L506.33,104.77 L507.08,107.05 L507.83,104.70 L508.58,106.94 L509.33,106.86 L510.08,107.49 L510.83,105.89 L511.58,108.40 L512.33,108.63 L513.08,107.79 L513.83,110.47 L514.58,110.78 L515.33,109.59 L516.08,111.49 L516.83,109.98 L517.59,113.42 L518.34,112.22 L519.09,114.37 L519.84,114.12 L520.59,113.66 L521.34,111.79 L522.09,106.87 L522.84,104.68 L523.59,106.74 L524.34,106.48 L525.09,109.86 L525.84,111.24 L526.59,112.69 L527.34,111.35 L528.09,114.81 L528.85,115.37 L529.60,114.04 L530.35,114.83 L531.10,114.84 L531.85,114.99 L532.60,117.57 L533.35,115.96 L534.10,117.65 L534.85,119.05 L535.60,118.24 L536.35,122.08 L537.10,121.21 L537.85,121.30 L538.60,120.69 L539.35,119.16 L540.11,116.58 L540.86,115.33 L541.61,116.67 L542.36,114.64 L543.11,114.54 L543.86,115.33 L544.61,113.62 L545.36,114.85 L546.11,113.38 L546.86,115.10 L547.61,113.63 L548.36,115.67 L549.11,116.31 L549.86,116.41 L550.61,114.53 L551.37,116.65 L552.12,114.58 L552.87,114.40 L553.62,115.94 L554.37,112.64 L555.12,112.99 L555.87,109.00 L556.62,107.39 L557.37,107.28 L558.12,103.87 L558.87,103.73 L559.62,102.54 L560.37,106.35 L561.12,107.02 L561.87,111.41 L562.63,116.64 L563.38,115.04 L564.13,114.27 L564.88,113.02 L565.63,109.11 L566.38,107.82 L567.13,102.75 L567.88,99.94 L568.63,94.55 L569.38,93.32 L570.13,94.37 L570.88,91.44 L571.63,92.22 L572.38,91.61 L573.13,93.18 L573.89,92.37 L574.64,94.72 L575.39,97.66 L576.14,100.96 L576.89,106.06 L577.64,107.93 L578.39,112.61 L579.14,114.17 L579.89,118.19 L580.64,120.22 L581.39,120.98 L582.14,122.13 L582.89,125.50 L583.64,124.78 L584.39,124.11 L585.15,120.02 L585.90,118.73 L586.65,114.10 L587.40,114.83 L588.15,117.36 L588.90,118.24 L589.65,117.61 L590.40,118.45" fill="none" stroke="#ff8080" stroke-width="0.5"/><path d="M365.00,115.73a0.95,0.95 0 1,0 1.9,0a0.95,0.95 0 1,0 -1.9,0zM365.75,114.62a0.95,0.95 0 1,0 1.9,0a0.95,0.95 0 1,0 -1.9,0zM366.50,115.03a0.95,0.95 0 1,0 1.9,0a0.95,0.95 0 1,0 -1.9,0zM367.25,118.80a0.95,0.95 0 1,0 1.9,0a0.95,0.95 0 1,0 -1.9,0zM368.00,115.48a0.95,0.95 0 1,0 1.9,0a0.95,0.95 0 1,0 -1.9,0zM368.75,115.65a0.95,0.95 0 1,0 1.9,0a0.95,0.95 0 1,0 -1.9,0zM369.50,112.17a0.95,0.95 0 1,0 1.9,0a0.95,0.95 0 1,0 -1.9,0zM370.26,110.20a0.95,0.95 0 1,0 1.9,0a0.95,0.95 0 1,0 -1.9,0zM371.01,109.70a0.95,0.95 0 1,0 1.9,0a0.95,0.95 0 1,0 -1.9,0zM371.76,111.29a0.95,0.95 0 1,0 1.9,0a0.95,0.95 0 1,0 -1.9,0zM372.51,108.94a0.95,0.95 0 1,0 1.9,0a0.95,0.95 0 1,0 -1.9,0zM373.26,109.90a0.95,0.95 0 1,0 1.9,0a0.95,0.95 0 1,0 -1.9,0zM374.01,106.27a0.95,0.95 0 1,0 1.9,0a0.95,0.95 0 1,0 -1.9,0zM374.76,108.77a0.95,0.95 0 1,0 1.9,0a0.95,0.95 0 1,0 -1.9,0zM375.51,107.48a0.95,0.95 0 1,0 1.9,0a0.95,0.95 0 1,0 -1.9,0zM376.26,109.82a0.95,0.95 0 1,0 1.9,0a0.95,0.95 0 1,0 -1.9,0zM377.01,107.95a0.95,0.95 0 1,0 1.9,0a0.95,0.95 0 1,0 -1.9,0zM377.76,111.92a0.95,0.95 0 1,0 1.9,0a0.95,0.95 0 1,0 -1.9,0zM378.51,113.91a0.95,0.95 0 1,0 1.9,0a0.95,0.95 0 1,0 -1.9,0zM379.26,115.15a0.95,0.95 0 1,0 1.9,0a0.95,0.95 0 1,0 -1.9,0zM380.01,115.96a0.95,0.95 0 1,0 1.9,0a0.95,0.95 0 1,0 -1.9,0zM380.76,113.26a0.95,0.95 0 1,0 1.9,0a0.95,0.95 0 1,0 -1.9,0zM381.52,114.87a0.95,0.95 0 1,0 1.9,0a0.95,0.95 0 1,0 -1.9,0zM382.27,112.73a0.95,0.95 0 1,0 1.9,0a0.95,0.95 0 1,0 -1.9,0zM383.02,114.31a0.95,0.95 0 1,0 1.9,0a0.95,0.95 0 1,0 -1.9,0zM383.77,109.69a0.95,0.95 0 1,0 1.9,0a0.95,0.95 0 1,0 -1.9,0zM384.52,111.92a0.95,0.95 0 1,0 1.9,0a0.95,0.95 0 1,0 -1.9,0zM385.27,106.89a0.95,0.95 0 1,0 1.9,0a0.95,0.95 0 1,0 -1.9,0zM386.02,106.59a0.95,0.95 0 1,0 1.9,0a0.95,0.95 0 1,0 -1.9,0zM386.77,109.39a0.95,0.95 0 1,0 1.9,0a0.95,0.95 0 1,0 -1.9,0zM387.52,108.46a0.95,0.95 0 1,0 1.9,0a0.95,0.95 0 1,0 -1.9,0zM388.27,105.79a0.95,0.95 0 1,0 1.9,0a0.95,0.95 0 1,0 -1.9,0zM389.02,107.34a0.95,0.95 0 1,0 1.9,0a0.95,0.95 0 1,0 -1.9,0zM389.77,107.23a0.95,0.95 0 1,0 1.9,0a0.95,0.95 0 1,0 -1.9,0zM390.52,107.04a0.95,0.95 0 1,0 1.9,0a0.95,0.95 0 1,0 -1.9,0zM391.27,107.35a0.95,0.95 0 1,0 1.9,0a0.95,0.95 0 1,0 -1.9,0zM392.02,104.18a0.95,0.95 0 1,0 1.9,0a0.95,0.95 0 1,0 -1.9,0zM392.78,106.44a0.95,0.95 0 1,0 1.9,0a0.95,0.95 0 1,0 -1.9,0zM393.53,103.63a0.95,0.95 0 1,0 1.9,0a0.95,0.95 0 1,0 -1.9,0zM394.28,105.92a0.95,0.95 0 1,0 1.9,0a0.95,0.95 0 1,0 -1.9,0zM395.03,102.81a0.95,0.95 0 1,0 1.9,0a0.95,0.95 0 1,0 -1.9,0zM395.78,101.35a0.95,0.95 0 1,0 1.9,0a0.95,0.95 0 1,0 -1.9,0zM396.53,101.55a0.95,0.95 0 1,0 1.9,0a0.95,0.95 0 1,0 -1.9,0zM397.28,101.19a0.95,0.95 0 1,0 1.9,0a0.95,0.95 0 1,0 -1.9,0zM398.03,102.31a0.95,0.95 0 1,0 1.9,0a0.95,0.95 0 1,0 -1.9,0zM398.78,99.02a0.95,0.95 0 1,0 1.9,0a0.95,0.95 0 1,0 -1.9,0zM399.53,103.30a0.95,0.95 0 1,0 1.9,0a0.95,0.95 0 1,0 -1.9,0zM400.28,104.04a0.95,0.95 0 1,0 1.9,0a0.95,0.95 0 1,0 -1.9,0zM401.03,102.33a0.95,0.95 0 1,0 1.9,0a0.95,0.95 0 1,0 -1.9,0zM401.78,102.68a0.95,0.95 0 1,0 1.9,0a0.95,0.95 0 1,0 -1.9,0zM402.53,76.16a0.95,0.95 0 1,0 1.9,0a0.95,0.95 0 1,0 -1.9,0zM403.28,67.08a0.95,0.95 0 1,0 1.9,0a0.95,0.95 0 1,0 -1.9,0zM404.04,64.92a0.95,0.95 0 1,0 1.9,0a0.95,0.95 0 1,0 -1.9,0zM404.79,66.29a0.95,0.95 0 1,0 1.9,0a0.95,0.95 0 1,0 -1.9,0zM405.54,64.58a0.95,0.95 0 1,0 1.9,0a0.95,0.95 0 1,0 -1.9,0zM406.29,63.67a0.95,0.95 0 1,0 1.9,0a0.95,0.95 0 1,0 -1.9,0zM407.04,63.77a0.95,0.95 0 1,0 1.9,0a0.95,0.95 0 1,0 -1.9,0zM407.79,61.57a0.95,0.95 0 1,0 1.9,0a0.95,0.95 0 1,0 -1.9,0zM408.54,60.41a0.95,0.95 0 1,0 1.9,0a0.95,0.95 0 1,0 -1.9,0zM409.29,61.41a0.95,0.95 0 1,0 1.9,0a0.95,0.95 0 1,0 -1.9,0zM410.04,60.13a0.95,0.95 0 1,0 1.9,0a0.95,0.95 0 1,0 -1.9,0zM410.79,64.64a0.95,0.95 0 1,0 1.9,0a0.95,0.95 0 1,0 -1.9,0zM411.54,73.41a0.95,0.95 0 1,0 1.9,0a0.95,0.95 0 1,0 -1.9,0zM412.29,83.81a0.95,0.95 0 1,0 1.9,0a0.95,0.95 0 1,0 -1.9,0zM413.04,92.28a0.95,0.95 0 1,0 1.9,0a0.95,0.95 0 1,0 -1.9,0zM413.79,98.74a0.95,0.95 0 1,0 1.9,0a0.95,0.95 0 1,0 -1.9,0zM414.54,106.10a0.95,0.95 0 1,0 1.9,0a0.95,0.95 0 1,0 -1.9,0zM415.30,106.77a0.95,0.95 0 1,0 1.9,0a0.95,0.95 0 1,0 -1.9,0zM416.05,110.53a0.95,0.95 0 1,0 1.9,0a0.95,0.95 0 1,0 -1.9,0zM416.80,111.48a0.95,0.95 0 1,0 1.9,0a0.95,0.95 0 1,0 -1.9,0zM417.55,110.75a0.95,0.95 0 1,0 1.9,0a0.95,0.95 0 1,0 -1.9,0zM418.30,113.69a0.95,0.95 0 1,0 1.9,0a0.95,0.95 0 1,0 -1.9,0zM419.05,112.05a0.95,0.95 0 1,0 1.9,0a0.95,0.95 0 1,0 -1.9,0zM419.80,108.09a0.95,0.95 0 1,0 1.9,0a0.95,0.95 0 1,0 -1.9,0zM420.55,108.72a0.95,0.95 0 1,0 1.9,0a0.95,0.95 0 1,0 -1.9,0zM421.30,105.55a0.95,0.95 0 1,0 1.9,0a0.95,0.95 0 1,0 -1.9,0zM422.05,109.21a0.95,0.95 0 1,0 1.9,0a0.95,0.95 0 1,0 -1.9,0zM422.80,108.71a0.95,0.95 0 1,0 1.9,0a0.95,0.95 0 1,0 -1.9,0zM423.55,112.69a0.95,0.95 0 1,0 1.9,0a0.95,0.95 0 1,0 -1.9,0zM424.30,113.22a0.95,0.95 0 1,0 1.9,0a0.95,0.95 0 1,0 -1.9,0zM425.05,110.16a0.95,0.95 0 1,0 1.9,0a0.95,0.95 0 1,0 -1.9,0zM425.80,112.03a0.95,0.95 0 1,0 1.9,0a0.95,0.95 0 1,0 -1.9,0zM426.56,108.09a0.95,0.95 0 1,0 1.9,0a0.95,0.95 0 1,0 -1.9,0zM427.31,108.67a0.95,0.95 0 1,0 1.9,0a0.95,0.95 0 1,0 -1.9,0zM428.06,111.44a0.95,0.95 0 1,0 1.9,0a0.95,0.95 0 1,0 -1.9,0zM428.81,109.93a0.95,0.95 0 1,0 1.9,0a0.95,0.95 0 1,0 -1.9,0zM429.56,111.17a0.95,0.95 0 1,0 1.9,0a0.95,0.95 0 1,0 -1.9,0zM430.31,110.63a0.95,0.95 0 1,0 1.9,0a0.95,0.95 0 1,0 -1.9,0zM431.06,108.12a0.95,0.95 0 1,0 1.9,0a0.95,0.95 0 1,0 -1.9,0zM431.81,109.90a0.95,0.95 0 1,0 1.9,0a0.95,0.95 0 1,0 -1.9,0zM432.56,108.22a0.95,0.95 0 1,0 1.9,0a0.95,0.95 0 1,0 -1.9,0zM433.31,111.45a0.95,0.95 0 1,0 1.9,0a0.95,0.95 0 1,0 -1.9,0zM434.06,107.89a0.95,0.95 0 1,0 1.9,0a0.95,0.95 0 1,0 -1.9,0zM434.81,107.64a0.95,0.95 0 1,0 1.9,0a0.95,0.95 0 1,0 -1.9,0zM435.56,110.07a0.95,0.95 0 1,0 1.9,0a0.95,0.95 0 1,0 -1.9,0zM436.31,107.15a0.95,0.95 0 1,0 1.9,0a0.95,0.95 0 1,0 -1.9,0zM437.06,108.17a0.95,0.95 0 1,0 1.9,0a0.95,0.95 0 1,0 -1.9,0zM437.82,105.11a0.95,0.95 0 1,0 1.9,0a0.95,0.95 0 1,0 -1.9,0zM438.57,100.15a0.95,0.95 0 1,0 1.9,0a0.95,0.95 0 1,0 -1.9,0zM439.32,98.40a0.95,0.95 0 1,0 1.9,0a0.95,0.95 0 1,0 -1.9,0zM440.07,96.06a0.95,0.95 0 1,0 1.9,0a0.95,0.95 0 1,0 -1.9,0zM440.82,97.03a0.95,0.95 0 1,0 1.9,0a0.95,0.95 0 1,0 -1.9,0zM441.57,103.08a0.95,0.95 0 1,0 1.9,0a0.95,0.95 0 1,0 -1.9,0zM442.32,101.24a0.95,0.95 0 1,0 1.9,0a0.95,0.95 0 1,0 -1.9,0zM443.07,101.43a0.95,0.95 0 1,0 1.9,0a0.95,0.95 0 1,0 -1.9,0zM443.82,104.69a0.95,0.95 0 1,0 1.9,0a0.95,0.95 0 1,0 -1.9,0zM444.57,102.65a0.95,0.95 0 1,0 1.9,0a0.95,0.95 0 1,0 -1.9,0zM445.32,105.78a0.95,0.95 0 1,0 1.9,0a0.95,0.95 0 1,0 -1.9,0zM446.07,103.61a0.95,0.95 0 1,0 1.9,0a0.95,0.95 0 1,0 -1.9,0zM446.82,106.77a0.95,0.95 0 1,0 1.9,0a0.95,0.95 0 1,0 -1.9,0zM447.57,102.72a0.95,0.95 0 1,0 1.9,0a0.95,0.95 0 1,0 -1.9,0zM448.32,104.32a0.95,0.95 0 1,0 1.9,0a0.95,0.95 0 1,0 -1.9,0zM449.08,100.18a0.95,0.95 0 1,0 1.9,0a0.95,0.95 0 1,0 -1.9,0zM449.83,98.72a0.95,0.95 0 1,0 1.9,0a0.95,0.95 0 1,0 -1.9,0zM450.58,100.82a0.95,0.95 0 1,0 1.9,0a0.95,0.95 0 1,0 -1.9,0zM451.33,99.76a0.95,0.95 0 1,0 1.9,0a0.95,0.95 0 1,0 -1.9,0zM452.08,104.79a0.95,0.95 0 1,0 1.9,0a0.95,0.95 0 1,0 -1.9,0zM452.83,103.41a0.95,0.95 0 1,0 1.9,0a0.95,0.95 0 1,0 -1.9,0zM453.58,106.94a0.95,0.95 0 1,0 1.9,0a0.95,0.95 0 1,0 -1.9,0zM454.33,107.86a0.95,0.95 0 1,0 1.9,0a0.95,0.95 0 1,0 -1.9,0zM455.08,106.82a0.95,0.95 0 1,0 1.9,0a0.95,0.95 0 1,0 -1.9,0zM455.83,108.59a0.95,0.95 0 1,0 1.9,0a0.95,0.95 0 1,0 -1.9,0zM456.58,112.33a0.95,0.95 0 1,0 1.9,0a0.95,0.95 0 1,0 -1.9,0zM457.33,114.75a0.95,0.95 0 1,0 1.9,0a0.95,0.95 0 1,0 -1.9,0zM458.08,117.52a0.95,0.95 0 1,0 1.9,0a0.95,0.95 0 1,0 -1.9,0zM458.83,117.55a0.95,0.95 0 1,0 1.9,0a0.95,0.95 0 1,0 -1.9,0zM459.58,122.16a0.95,0.95 0 1,0 1.9,0a0.95,0.95 0 1,0 -1.9,0zM460.34,116.74a0.95,0.95 0 1,0 1.9,0a0.95,0.95 0 1,0 -1.9,0zM461.09,112.48a0.95,0.95 0 1,0 1.9,0a0.95,0.95 0 1,0 -1.9,0zM461.84,111.05a0.95,0.95 0 1,0 1.9,0a0.95,0.95 0 1,0 -1.9,0zM462.59,111.67a0.95,0.95 0 1,0 1.9,0a0.95,0.95 0 1,0 -1.9,0zM463.34,108.75a0.95,0.95 0 1,0 1.9,0a0.95,0.95 0 1,0 -1.9,0zM464.09,111.12a0.95,0.95 0 1,0 1.9,0a0.95,0.95 0 1,0 -1.9,0zM464.84,112.85a0.95,0.95 0 1,0 1.9,0a0.95,0.95 0 1,0 -1.9,0zM465.59,109.74a0.95,0.95 0 1,0 1.9,0a0.95,0.95 0 1,0 -1.9,0zM466.34,110.79a0.95,0.95 0 1,0 1.9,0a0.95,0.95 0 1,0 -1.9,0zM467.09,107.65a0.95,0.95 0 1,0 1.9,0a0.95,0.95 0 1,0 -1.9,0zM467.84,109.87a0.95,0.95 0 1,0 1.9,0a0.95,0.95 0 1,0 -1.9,0zM468.59,106.10a0.95,0.95 0 1,0 1.9,0a0.95,0.95 0 1,0 -1.9,0zM469.34,102.94a0.95,0.95 0 1,0 1.9,0a0.95,0.95 0 1,0 -1.9,0zM470.09,103.05a0.95,0.95 0 1,0 1.9,0a0.95,0.95 0 1,0 -1.9,0zM470.84,101.83a0.95,0.95 0 1,0 1.9,0a0.95,0.95 0 1,0 -1.9,0zM471.60,104.35a0.95,0.95 0 1,0 1.9,0a0.95,0.95 0 1,0 -1.9,0zM472.35,106.52a0.95,0.95 0 1,0 1.9,0a0.95,0.95 0 1,0 -1.9,0zM473.10,108.41a0.95,0.95 0 1,0 1.9,0a0.95,0.95 0 1,0 -1.9,0zM473.85,106.38a0.95,0.95 0 1,0 1.9,0a0.95,0.95 0 1,0 -1.9,0zM474.60,108.14a0.95,0.95 0 1,0 1.9,0a0.95,0.95 0 1,0 -1.9,0zM475.35,106.16a0.95,0.95 0 1,0 1.9,0a0.95,0.95 0 1,0 -1.9,0zM476.10,109.51a0.95,0.95 0 1,0 1.9,0a0.95,0.95 0 1,0 -1.9,0zM476.85,107.56a0.95,0.95 0 1,0 1.9,0a0.95,0.95 0 1,0 -1.9,0zM477.60,107.25a0.95,0.95 0 1,0 1.9,0a0.95,0.95 0 1,0 -1.9,0zM478.35,108.24a0.95,0.95 0 1,0 1.9,0a0.95,0.95 0 1,0 -1.9,0zM479.10,109.08a0.95,0.95 0 1,0 1.9,0a0.95,0.95 0 1,0 -1.9,0zM479.85,109.42a0.95,0.95 0 1,0 1.9,0a0.95,0.95 0 1,0 -1.9,0zM480.60,109.93a0.95,0.95 0 1,0 1.9,0a0.95,0.95 0 1,0 -1.9,0zM481.35,113.62a0.95,0.95 0 1,0 1.9,0a0.95,0.95 0 1,0 -1.9,0zM482.10,111.69a0.95,0.95 0 1,0 1.9,0a0.95,0.95 0 1,0 -1.9,0zM482.86,112.49a0.95,0.95 0 1,0 1.9,0a0.95,0.95 0 1,0 -1.9,0zM483.61,116.35a0.95,0.95 0 1,0 1.9,0a0.95,0.95 0 1,0 -1.9,0zM484.36,118.30a0.95,0.95 0 1,0 1.9,0a0.95,0.95 0 1,0 -1.9,0zM485.11,116.64a0.95,0.95 0 1,0 1.9,0a0.95,0.95 0 1,0 -1.9,0zM485.86,121.58a0.95,0.95 0 1,0 1.9,0a0.95,0.95 0 1,0 -1.9,0zM486.61,123.41a0.95,0.95 0 1,0 1.9,0a0.95,0.95 0 1,0 -1.9,0zM487.36,125.99a0.95,0.95 0 1,0 1.9,0a0.95,0.95 0 1,0 -1.9,0zM488.11,123.73a0.95,0.95 0 1,0 1.9,0a0.95,0.95 0 1,0 -1.9,0zM488.86,119.75a0.95,0.95 0 1,0 1.9,0a0.95,0.95 0 1,0 -1.9,0zM489.61,114.60a0.95,0.95 0 1,0 1.9,0a0.95,0.95 0 1,0 -1.9,0zM490.36,112.48a0.95,0.95 0 1,0 1.9,0a0.95,0.95 0 1,0 -1.9,0zM491.11,106.57a0.95,0.95 0 1,0 1.9,0a0.95,0.95 0 1,0 -1.9,0zM491.86,107.85a0.95,0.95 0 1,0 1.9,0a0.95,0.95 0 1,0 -1.9,0zM492.61,105.39a0.95,0.95 0 1,0 1.9,0a0.95,0.95 0 1,0 -1.9,0zM493.36,107.46a0.95,0.95 0 1,0 1.9,0a0.95,0.95 0 1,0 -1.9,0zM494.12,105.19a0.95,0.95 0 1,0 1.9,0a0.95,0.95 0 1,0 -1.9,0zM494.87,106.83a0.95,0.95 0 1,0 1.9,0a0.95,0.95 0 1,0 -1.9,0zM495.62,103.91a0.95,0.95 0 1,0 1.9,0a0.95,0.95 0 1,0 -1.9,0zM496.37,106.60a0.95,0.95 0 1,0 1.9,0a0.95,0.95 0 1,0 -1.9,0zM497.12,105.21a0.95,0.95 0 1,0 1.9,0a0.95,0.95 0 1,0 -1.9,0zM497.87,106.99a0.95,0.95 0 1,0 1.9,0a0.95,0.95 0 1,0 -1.9,0zM498.62,105.74a0.95,0.95 0 1,0 1.9,0a0.95,0.95 0 1,0 -1.9,0zM499.37,108.13a0.95,0.95 0 1,0 1.9,0a0.95,0.95 0 1,0 -1.9,0zM500.12,107.68a0.95,0.95 0 1,0 1.9,0a0.95,0.95 0 1,0 -1.9,0zM500.87,105.44a0.95,0.95 0 1,0 1.9,0a0.95,0.95 0 1,0 -1.9,0zM501.62,106.03a0.95,0.95 0 1,0 1.9,0a0.95,0.95 0 1,0 -1.9,0zM502.37,107.20a0.95,0.95 0 1,0 1.9,0a0.95,0.95 0 1,0 -1.9,0zM503.12,105.31a0.95,0.95 0 1,0 1.9,0a0.95,0.95 0 1,0 -1.9,0zM503.87,106.79a0.95,0.95 0 1,0 1.9,0a0.95,0.95 0 1,0 -1.9,0zM504.62,106.33a0.95,0.95 0 1,0 1.9,0a0.95,0.95 0 1,0 -1.9,0zM505.38,104.77a0.95,0.95 0 1,0 1.9,0a0.95,0.95 0 1,0 -1.9,0zM506.13,107.05a0.95,0.95 0 1,0 1.9,0a0.95,0.95 0 1,0 -1.9,0zM506.88,104.70a0.95,0.95 0 1,0 1.9,0a0.95,0.95 0 1,0 -1.9,0zM507.63,106.94a0.95,0.95 0 1,0 1.9,0a0.95,0.95 0 1,0 -1.9,0zM508.38,106.86a0.95,0.95 0 1,0 1.9,0a0.95,0.95 0 1,0 -1.9,0zM509.13,107.49a0.95,0.95 0 1,0 1.9,0a0.95,0.95 0 1,0 -1.9,0zM509.88,105.89a0.95,0.95 0 1,0 1.9,0a0.95,0.95 0 1,0 -1.9,0zM510.63,108.40a0.95,0.95 0 1,0 1.9,0a0.95,0.95 0 1,0 -1.9,0zM511.38,108.63a0.95,0.95 0 1,0 1.9,0a0.95,0.95 0 1,0 -1.9,0zM512.13,107.79a0.95,0.95 0 1,0 1.9,0a0.95,0.95 0 1,0 -1.9,0zM512.88,110.47a0.95,0.95 0 1,0 1.9,0a0.95,0.95 0 1,0 -1.9,0zM513.63,110.78a0.95,0.95 0 1,0 1.9,0a0.95,0.95 0 1,0 -1.9,0zM514.38,109.59a0.95,0.95 0 1,0 1.9,0a0.95,0.95 0 1,0 -1.9,0zM515.13,111.49a0.95,0.95 0 1,0 1.9,0a0.95,0.95 0 1,0 -1.9,0zM515.88,109.98a0.95,0.95 0 1,0 1.9,0a0.95,0.95 0 1,0 -1.9,0zM516.64,113.42a0.95,0.95 0 1,0 1.9,0a0.95,0.95 0 1,0 -1.9,0zM517.39,112.22a0.95,0.95 0 1,0 1.9,0a0.95,0.95 0 1,0 -1.9,0zM518.14,114.37a0.95,0.95 0 1,0 1.9,0a0.95,0.95 0 1,0 -1.9,0zM518.89,114.12a0.95,0.95 0 1,0 1.9,0a0.95,0.95 0 1,0 -1.9,0zM519.64,113.66a0.95,0.95 0 1,0 1.9,0a0.95,0.95 0 1,0 -1.9,0zM520.39,111.79a0.95,0.95 0 1,0 1.9,0a0.95,0.95 0 1,0 -1.9,0zM521.14,106.87a0.95,0.95 0 1,0 1.9,0a0.95,0.95 0 1,0 -1.9,0zM521.89,104.68a0.95,0.95 0 1,0 1.9,0a0.95,0.95 0 1,0 -1.9,0zM522.64,106.74a0.95,0.95 0 1,0 1.9,0a0.95,0.95 0 1,0 -1.9,0zM523.39,106.48a0.95,0.95 0 1,0 1.9,0a0.95,0.95 0 1,0 -1.9,0zM524.14,109.86a0.95,0.95 0 1,0 1.9,0a0.95,0.95 0 1,0 -1.9,0zM524.89,111.24a0.95,0.95 0 1,0 1.9,0a0.95,0.95 0 1,0 -1.9,0zM525.64,112.69a0.95,0.95 0 1,0 1.9,0a0.95,0.95 0 1,0 -1.9,0zM526.39,111.35a0.95,0.95 0 1,0 1.9,0a0.95,0.95 0 1,0 -1.9,0zM527.14,114.81a0.95,0.95 0 1,0 1.9,0a0.95,0.95 0 1,0 -1.9,0zM527.90,115.37a0.95,0.95 0 1,0 1.9,0a0.95,0.95 0 1,0 -1.9,0zM528.65,114.04a0.95,0.95 0 1,0 1.9,0a0.95,0.95 0 1,0 -1.9,0zM529.40,114.83a0.95,0.95 0 1,0 1.9,0a0.95,0.95 0 1,0 -1.9,0zM530.15,114.84a0.95,0.95 0 1,0 1.9,0a0.95,0.95 0 1,0 -1.9,0zM530.90,114.99a0.95,0.95 0 1,0 1.9,0a0.95,0.95 0 1,0 -1.9,0zM531.65,117.57a0.95,0.95 0 1,0 1.9,0a0.95,0.95 0 1,0 -1.9,0zM532.40,115.96a0.95,0.95 0 1,0 1.9,0a0.95,0.95 0 1,0 -1.9,0zM533.15,117.65a0.95,0.95 0 1,0 1.9,0a0.95,0.95 0 1,0 -1.9,0zM533.90,119.05a0.95,0.95 0 1,0 1.9,0a0.95,0.95 0 1,0 -1.9,0zM534.65,118.24a0.95,0.95 0 1,0 1.9,0a0.95,0.95 0 1,0 -1.9,0zM535.40,122.08a0.95,0.95 0 1,0 1.9,0a0.95,0.95 0 1,0 -1.9,0zM536.15,121.21a0.95,0.95 0 1,0 1.9,0a0.95,0.95 0 1,0 -1.9,0zM536.90,121.30a0.95,0.95 0 1,0 1.9,0a0.95,0.95 0 1,0 -1.9,0zM537.65,120.69a0.95,0.95 0 1,0 1.9,0a0.95,0.95 0 1,0 -1.9,0zM538.40,119.16a0.95,0.95 0 1,0 1.9,0a0.95,0.95 0 1,0 -1.9,0zM539.16,116.58a0.95,0.95 0 1,0 1.9,0a0.95,0.95 0 1,0 -1.9,0zM539.91,115.33a0.95,0.95 0 1,0 1.9,0a0.95,0.95 0 1,0 -1.9,0zM540.66,116.67a0.95,0.95 0 1,0 1.9,0a0.95,0.95 0 1,0 -1.9,0zM541.41,114.64a0.95,0.95 0 1,0 1.9,0a0.95,0.95 0 1,0 -1.9,0zM542.16,114.54a0.95,0.95 0 1,0 1.9,0a0.95,0.95 0 1,0 -1.9,0zM542.91,115.33a0.95,0.95 0 1,0 1.9,0a0.95,0.95 0 1,0 -1.9,0zM543.66,113.62a0.95,0.95 0 1,0 1.9,0a0.95,0.95 0 1,0 -1.9,0zM544.41,114.85a0.95,0.95 0 1,0 1.9,0a0.95,0.95 0 1,0 -1.9,0zM545.16,113.38a0.95,0.95 0 1,0 1.9,0a0.95,0.95 0 1,0 -1.9,0zM545.91,115.10a0.95,0.95 0 1,0 1.9,0a0.95,0.95 0 1,0 -1.9,0zM546.66,113.63a0.95,0.95 0 1,0 1.9,0a0.95,0.95 0 1,0 -1.9,0zM547.41,115.67a0.95,0.95 0 1,0 1.9,0a0.95,0.95 0 1,0 -1.9,0zM548.16,116.31a0.95,0.95 0 1,0 1.9,0a0.95,0.95 0 1,0 -1.9,0zM548.91,116.41a0.95,0.95 0 1,0 1.9,0a0.95,0.95 0 1,0 -1.9,0zM549.66,114.53a0.95,0.95 0 1,0 1.9,0a0.95,0.95 0 1,0 -1.9,0zM550.42,116.65a0.95,0.95 0 1,0 1.9,0a0.95,0.95 0 1,0 -1.9,0zM551.17,114.58a0.95,0.95 0 1,0 1.9,0a0.95,0.95 0 1,0 -1.9,0zM551.92,114.40a0.95,0.95 0 1,0 1.9,0a0.95,0.95 0 1,0 -1.9,0zM552.67,115.94a0.95,0.95 0 1,0 1.9,0a0.95,0.95 0 1,0 -1.9,0zM553.42,112.64a0.95,0.95 0 1,0 1.9,0a0.95,0.95 0 1,0 -1.9,0zM554.17,112.99a0.95,0.95 0 1,0 1.9,0a0.95,0.95 0 1,0 -1.9,0zM554.92,109.00a0.95,0.95 0 1,0 1.9,0a0.95,0.95 0 1,0 -1.9,0zM555.67,107.39a0.95,0.95 0 1,0 1.9,0a0.95,0.95 0 1,0 -1.9,0zM556.42,107.28a0.95,0.95 0 1,0 1.9,0a0.95,0.95 0 1,0 -1.9,0zM557.17,103.87a0.95,0.95 0 1,0 1.9,0a0.95,0.95 0 1,0 -1.9,0zM557.92,103.73a0.95,0.95 0 1,0 1.9,0a0.95,0.95 0 1,0 -1.9,0zM558.67,102.54a0.95,0.95 0 1,0 1.9,0a0.95,0.95 0 1,0 -1.9,0zM559.42,106.35a0.95,0.95 0 1,0 1.9,0a0.95,0.95 0 1,0 -1.9,0zM560.17,107.02a0.95,0.95 0 1,0 1.9,0a0.95,0.95 0 1,0 -1.9,0zM560.92,111.41a0.95,0.95 0 1,0 1.9,0a0.95,0.95 0 1,0 -1.9,0zM561.68,116.64a0.95,0.95 0 1,0 1.9,0a0.95,0.95 0 1,0 -1.9,0zM562.43,115.04a0.95,0.95 0 1,0 1.9,0a0.95,0.95 0 1,0 -1.9,0zM563.18,114.27a0.95,0.95 0 1,0 1.9,0a0.95,0.95 0 1,0 -1.9,0zM563.93,113.02a0.95,0.95 0 1,0 1.9,0a0.95,0.95 0 1,0 -1.9,0zM564.68,109.11a0.95,0.95 0 1,0 1.9,0a0.95,0.95 0 1,0 -1.9,0zM565.43,107.82a0.95,0.95 0 1,0 1.9,0a0.95,0.95 0 1,0 -1.9,0zM566.18,102.75a0.95,0.95 0 1,0 1.9,0a0.95,0.95 0 1,0 -1.9,0zM566.93,99.94a0.95,0.95 0 1,0 1.9,0a0.95,0.95 0 1,0 -1.9,0zM567.68,94.55a0.95,0.95 0 1,0 1.9,0a0.95,0.95 0 1,0 -1.9,0zM568.43,93.32a0.95,0.95 0 1,0 1.9,0a0.95,0.95 0 1,0 -1.9,0zM569.18,94.37a0.95,0.95 0 1,0 1.9,0a0.95,0.95 0 1,0 -1.9,0zM569.93,91.44a0.95,0.95 0 1,0 1.9,0a0.95,0.95 0 1,0 -1.9,0zM570.68,92.22a0.95,0.95 0 1,0 1.9,0a0.95,0.95 0 1,0 -1.9,0zM571.43,91.61a0.95,0.95 0 1,0 1.9,0a0.95,0.95 0 1,0 -1.9,0zM572.18,93.18a0.95,0.95 0 1,0 1.9,0a0.95,0.95 0 1,0 -1.9,0zM572.94,92.37a0.95,0.95 0 1,0 1.9,0a0.95,0.95 0 1,0 -1.9,0zM573.69,94.72a0.95,0.95 0 1,0 1.9,0a0.95,0.95 0 1,0 -1.9,0zM574.44,97.66a0.95,0.95 0 1,0 1.9,0a0.95,0.95 0 1,0 -1.9,0zM575.19,100.96a0.95,0.95 0 1,0 1.9,0a0.95,0.95 0 1,0 -1.9,0zM575.94,106.06a0.95,0.95 0 1,0 1.9,0a0.95,0.95 0 1,0 -1.9,0zM576.69,107.93a0.95,0.95 0 1,0 1.9,0a0.95,0.95 0 1,0 -1.9,0zM577.44,112.61a0.95,0.95 0 1,0 1.9,0a0.95,0.95 0 1,0 -1.9,0zM578.19,114.17a0.95,0.95 0 1,0 1.9,0a0.95,0.95 0 1,0 -1.9,0zM578.94,118.19a0.95,0.95 0 1,0 1.9,0a0.95,0.95 0 1,0 -1.9,0zM579.69,120.22a0.95,0.95 0 1,0 1.9,0a0.95,0.95 0 1,0 -1.9,0zM580.44,120.98a0.95,0.95 0 1,0 1.9,0a0.95,0.95 0 1,0 -1.9,0zM581.19,122.13a0.95,0.95 0 1,0 1.9,0a0.95,0.95 0 1,0 -1.9,0zM581.94,125.50a0.95,0.95 0 1,0 1.9,0a0.95,0.95 0 1,0 -1.9,0zM582.69,124.78a0.95,0.95 0 1,0 1.9,0a0.95,0.95 0 1,0 -1.9,0zM583.44,124.11a0.95,0.95 0 1,0 1.9,0a0.95,0.95 0 1,0 -1.9,0zM584.20,120.02a0.95,0.95 0 1,0 1.9,0a0.95,0.95 0 1,0 -1.9,0zM584.95,118.73a0.95,0.95 0 1,0 1.9,0a0.95,0.95 0 1,0 -1.9,0zM585.70,114.10a0.95,0.95 0 1,0 1.9,0a0.95,0.95 0 1,0 -1.9,0zM586.45,114.83a0.95,0.95 0 1,0 1.9,0a0.95,0.95 0 1,0 -1.9,0zM587.20,117.36a0.95,0.95 0 1,0 1.9,0a0.95,0.95 0 1,0 -1.9,0zM587.95,118.24a0.95,0.95 0 1,0 1.9,0a0.95,0.95 0 1,0 -1.9,0zM588.70,117.61a0.95,0.95 0 1,0 1.9,0a0.95,0.95 0 1,0 -1.9,0zM589.45,118.45a0.95,0.95 0 1,0 1.9,0a0.95,0.95 0 1,0 -1.9,0z" fill="#ff0000"/>
<path d="M365.95,119.17 L366.70,123.52 L367.45,123.55 L368.20,127.72 L368.95,124.58 L369.70,121.83 L370.45,120.31 L371.21,121.28 L371.96,118.02 L372.71,120.28 L373.46,117.50 L374.21,116.14 L374.96,117.32 L375.71,118.50 L376.46,119.71 L377.21,120.46 L377.96,117.91 L378.71,122.07 L379.46,121.92 L380.21,121.34 L380.96,121.82 L381.71,124.49 L382.47,123.20 L383.22,125.53 L383.97,121.01 L384.72,122.84 L385.47,121.36 L386.22,117.95 L386.97,116.10 L387.72,115.76 L388.47,115.75 L389.22,115.07 L389.97,116.73 L390.72,117.67 L391.47,114.11 L392.22,116.15 L392.97,113.63 L393.73,114.26 L394.48,115.17 L395.23,115.25 L395.98,115.78 L396.73,111.77 L397.48,113.75 L398.23,112.08 L398.98,113.27 L399.73,111.02 L400.48,112.94 L401.23,110.30 L401.98,114.41 L402.73,114.96 L403.48,92.64 L404.23,88.70 L404.99,88.16 L405.74,86.23 L406.49,87.08 L407.24,86.62 L407.99,85.00 L408.74,85.36 L409.49,83.28 L410.24,84.34 L410.99,83.37 L411.74,86.62 L412.49,94.73 L413.24,103.38 L413.99,114.68 L414.74,115.84 L415.49,118.94 L416.25,117.37 L417.00,119.83 L417.75,117.77 L418.50,117.53 L419.25,118.82 L420.00,115.78 L420.75,116.29 L421.50,118.76 L422.25,117.55 L423.00,119.74 L423.75,120.45 L424.50,120.68 L425.25,119.27 L426.00,120.52 L426.75,123.31 L427.51,121.71 L428.26,119.16 L429.01,119.90 L429.76,119.62 L430.51,119.61 L431.26,118.09 L432.01,118.48 L432.76,120.45 L433.51,118.15 L434.26,118.29 L435.01,120.57 L435.76,120.31 L436.51,116.43 L437.26,116.98 L438.01,115.85 L438.77,116.39 L439.52,111.73 L440.27,110.84 L441.02,109.44 L441.77,109.99 L442.52,109.50 L443.27,110.00 L444.02,111.15 L444.77,114.60 L445.52,112.71 L446.27,115.34 L447.02,112.70 L447.77,115.12 L448.52,112.25 L449.27,114.85 L450.03,111.50 L450.78,112.82 L451.53,109.53 L452.28,109.99 L453.03,111.50 L453.78,114.92 L454.53,113.67 L455.28,117.00 L456.03,115.94 L456.78,118.33 L457.53,121.38 L458.28,121.85 L459.03,123.03 L459.78,128.14 L460.53,128.35 L461.29,128.94 L462.04,123.76 L462.79,123.72 L463.54,120.93 L464.29,120.55 L465.04,121.73 L465.79,118.91 L466.54,118.44 L467.29,117.38 L468.04,118.95 L468.79,115.47 L469.54,117.25 L470.29,113.94 L471.04,115.14 L471.79,112.38 L472.55,115.90 L473.30,116.12 L474.05,117.48 L474.80,115.78 L475.55,119.19 L476.30,117.00 L477.05,117.89 L477.80,118.48 L478.55,121.29 L479.30,119.92 L480.05,120.50 L480.80,122.11 L481.55,122.66 L482.30,121.02 L483.05,124.64 L483.81,122.67 L484.56,123.80 L485.31,125.23 L486.06,125.59 L486.81,127.28 L487.56,127.66 L488.31,131.14 L489.06,130.30 L489.81,132.58 L490.56,128.94 L491.31,127.23 L492.06,126.95 L492.81,123.33 L493.56,123.14 L494.31,121.68 L495.07,120.86 L495.82,118.59 L496.57,120.05 L497.32,117.57 L498.07,117.48 L498.82,118.53 L499.57,117.74 L500.32,116.43 L501.07,119.22 L501.82,118.78 L502.57,121.41 L503.32,118.93 L504.07,120.20 L504.82,117.03 L505.57,117.81 L506.33,115.79 L507.08,116.06 L507.83,115.00 L508.58,117.14 L509.33,115.17 L510.08,117.71 L510.83,115.99 L511.58,116.47 L512.33,118.59 L513.08,118.54 L513.83,119.27 L514.58,117.74 L515.33,119.62 L516.08,117.71 L516.83,118.65 L517.59,120.14 L518.34,118.92 L519.09,119.12 L519.84,121.75 L520.59,120.26 L521.34,119.38 L522.09,119.14 L522.84,115.61 L523.59,117.41 L524.34,116.55 L525.09,118.70 L525.84,117.79 L526.59,118.70 L527.34,120.61 L528.09,119.97 L528.85,122.75 L529.60,122.84 L530.35,123.47 L531.10,123.79 L531.85,121.88 L532.60,123.83 L533.35,121.82 L534.10,122.01 L534.85,124.31 L535.60,124.16 L536.35,124.83 L537.10,127.18 L537.85,126.75 L538.60,128.11 L539.35,125.61 L540.11,124.64 L540.86,125.07 L541.61,122.38 L542.36,123.40 L543.11,122.01 L543.86,123.23 L544.61,122.91 L545.36,122.57 L546.11,121.20 L546.86,121.66 L547.61,122.77 L548.36,123.04 L549.11,121.94 L549.86,123.74 L550.61,121.97 L551.37,123.72 L552.12,122.93 L552.87,122.63 L553.62,124.21 L554.37,121.66 L555.12,119.69 L555.87,119.10 L556.62,116.30 L557.37,116.22 L558.12,113.58 L558.87,112.62 L559.62,112.71 L560.37,113.85 L561.12,116.53 L561.87,116.65 L562.63,120.26 L563.38,122.38 L564.13,120.79 L564.88,119.97 L565.63,115.75 L566.38,114.51 L567.13,110.51 L567.88,109.50 L568.63,107.18 L569.38,107.92 L570.13,106.34 L570.88,105.74 L571.63,103.77 L572.38,104.92 L573.13,103.73 L573.89,106.09 L574.64,106.72 L575.39,108.38 L576.14,110.29 L576.89,112.66 L577.64,115.03 L578.39,118.19 L579.14,120.95 L579.89,124.75 L580.64,126.76 L581.39,129.08 L582.14,128.50 L582.89,130.74 L583.64,130.10 L584.39,128.82 L585.15,128.85 L585.90,126.97 L586.65,124.23 L587.40,123.87 L588.15,123.69 L588.90,124.95 L589.65,124.44 L590.40,123.58" fill="none" stroke="#808080" stroke-width="0.5"/><path d="M365.00,119.17a0.95,0.95 0 1,0 1.9,0a0.95,0.95 0 1,0 -1.9,0zM365.75,123.52a0.95,0.95 0 1,0 1.9,0a0.95,0.95 0 1,0 -1.9,0zM366.50,123.55a0.95,0.95 0 1,0 1.9,0a0.95,0.95 0 1,0 -1.9,0zM367.25,127.72a0.95,0.95 0 1,0 1.9,0a0.95,0.95 0 1,0 -1.9,0zM368.00,124.58a0.95,0.95 0 1,0 1.9,0a0.95,0.95 0 1,0 -1.9,0zM368.75,121.83a0.95,0.95 0 1,0 1.9,0a0.95,0.95 0 1,0 -1.9,0zM369.50,120.31a0.95,0.95 0 1,0 1.9,0a0.95,0.95 0 1,0 -1.9,0zM370.26,121.28a0.95,0.95 0 1,0 1.9,0a0.95,0.95 0 1,0 -1.9,0zM371.01,118.02a0.95,0.95 0 1,0 1.9,0a0.95,0.95 0 1,0 -1.9,0zM371.76,120.28a0.95,0.95 0 1,0 1.9,0a0.95,0.95 0 1,0 -1.9,0zM372.51,117.50a0.95,0.95 0 1,0 1.9,0a0.95,0.95 0 1,0 -1.9,0zM373.26,116.14a0.95,0.95 0 1,0 1.9,0a0.95,0.95 0 1,0 -1.9,0zM374.01,117.32a0.95,0.95 0 1,0 1.9,0a0.95,0.95 0 1,0 -1.9,0zM374.76,118.50a0.95,0.95 0 1,0 1.9,0a0.95,0.95 0 1,0 -1.9,0zM375.51,119.71a0.95,0.95 0 1,0 1.9,0a0.95,0.95 0 1,0 -1.9,0zM376.26,120.46a0.95,0.95 0 1,0 1.9,0a0.95,0.95 0 1,0 -1.9,0zM377.01,117.91a0.95,0.95 0 1,0 1.9,0a0.95,0.95 0 1,0 -1.9,0zM377.76,122.07a0.95,0.95 0 1,0 1.9,0a0.95,0.95 0 1,0 -1.9,0zM378.51,121.92a0.95,0.95 0 1,0 1.9,0a0.95,0.95 0 1,0 -1.9,0zM379.26,121.34a0.95,0.95 0 1,0 1.9,0a0.95,0.95 0 1,0 -1.9,0zM380.01,121.82a0.95,0.95 0 1,0 1.9,0a0.95,0.95 0 1,0 -1.9,0zM380.76,124.49a0.95,0.95 0 1,0 1.9,0a0.95,0.95 0 1,0 -1.9,0zM381.52,123.20a0.95,0.95 0 1,0 1.9,0a0.95,0.95 0 1,0 -1.9,0zM382.27,125.53a0.95,0.95 0 1,0 1.9,0a0.95,0.95 0 1,0 -1.9,0zM383.02,121.01a0.95,0.95 0 1,0 1.9,0a0.95,0.95 0 1,0 -1.9,0zM383.77,122.84a0.95,0.95 0 1,0 1.9,0a0.95,0.95 0 1,0 -1.9,0zM384.52,121.36a0.95,0.95 0 1,0 1.9,0a0.95,0.95 0 1,0 -1.9,0zM385.27,117.95a0.95,0.95 0 1,0 1.9,0a0.95,0.95 0 1,0 -1.9,0zM386.02,116.10a0.95,0.95 0 1,0 1.9,0a0.95,0.95 0 1,0 -1.9,0zM386.77,115.76a0.95,0.95 0 1,0 1.9,0a0.95,0.95 0 1,0 -1.9,0zM387.52,115.75a0.95,0.95 0 1,0 1.9,0a0.95,0.95 0 1,0 -1.9,0zM388.27,115.07a0.95,0.95 0 1,0 1.9,0a0.95,0.95 0 1,0 -1.9,0zM389.02,116.73a0.95,0.95 0 1,0 1.9,0a0.95,0.95 0 1,0 -1.9,0zM389.77,117.67a0.95,0.95 0 1,0 1.9,0a0.95,0.95 0 1,0 -1.9,0zM390.52,114.11a0.95,0.95 0 1,0 1.9,0a0.95,0.95 0 1,0 -1.9,0zM391.27,116.15a0.95,0.95 0 1,0 1.9,0a0.95,0.95 0 1,0 -1.9,0zM392.02,113.63a0.95,0.95 0 1,0 1.9,0a0.95,0.95 0 1,0 -1.9,0zM392.78,114.26a0.95,0.95 0 1,0 1.9,0a0.95,0.95 0 1,0 -1.9,0zM393.53,115.17a0.95,0.95 0 1,0 1.9,0a0.95,0.95 0 1,0 -1.9,0zM394.28,115.25a0.95,0.95 0 1,0 1.9,0a0.95,0.95 0 1,0 -1.9,0zM395.03,115.78a0.95,0.95 0 1,0 1.9,0a0.95,0.95 0 1,0 -1.9,0zM395.78,111.77a0.95,0.95 0 1,0 1.9,0a0.95,0.95 0 1,0 -1.9,0zM396.53,113.75a0.95,0.95 0 1,0 1.9,0a0.95,0.95 0 1,0 -1.9,0zM397.28,112.08a0.95,0.95 0 1,0 1.9,0a0.95,0.95 0 1,0 -1.9,0zM398.03,113.27a0.95,0.95 0 1,0 1.9,0a0.95,0.95 0 1,0 -1.9,0zM398.78,111.02a0.95,0.95 0 1,0 1.9,0a0.95,0.95 0 1,0 -1.9,0zM399.53,112.94a0.95,0.95 0 1,0 1.9,0a0.95,0.95 0 1,0 -1.9,0zM400.28,110.30a0.95,0.95 0 1,0 1.9,0a0.95,0.95 0 1,0 -1.9,0zM401.03,114.41a0.95,0.95 0 1,0 1.9,0a0.95,0.95 0 1,0 -1.9,0zM401.78,114.96a0.95,0.95 0 1,0 1.9,0a0.95,0.95 0 1,0 -1.9,0zM402.53,92.64a0.95,0.95 0 1,0 1.9,0a0.95,0.95 0 1,0 -1.9,0zM403.28,88.70a0.95,0.95 0 1,0 1.9,0a0.95,0.95 0 1,0 -1.9,0zM404.04,88.16a0.95,0.95 0 1,0 1.9,0a0.95,0.95 0 1,0 -1.9,0zM404.79,86.23a0.95,0.95 0 1,0 1.9,0a0.95,0.95 0 1,0 -1.9,0zM405.54,87.08a0.95,0.95 0 1,0 1.9,0a0.95,0.95 0 1,0 -1.9,0zM406.29,86.62a0.95,0.95 0 1,0 1.9,0a0.95,0.95 0 1,0 -1.9,0zM407.04,85.00a0.95,0.95 0 1,0 1.9,0a0.95,0.95 0 1,0 -1.9,0zM407.79,85.36a0.95,0.95 0 1,0 1.9,0a0.95,0.95 0 1,0 -1.9,0zM408.54,83.28a0.95,0.95 0 1,0 1.9,0a0.95,0.95 0 1,0 -1.9,0zM409.29,84.34a0.95,0.95 0 1,0 1.9,0a0.95,0.95 0 1,0 -1.9,0zM410.04,83.37a0.95,0.95 0 1,0 1.9,0a0.95,0.95 0 1,0 -1.9,0zM410.79,86.62a0.95,0.95 0 1,0 1.9,0a0.95,0.95 0 1,0 -1.9,0zM411.54,94.73a0.95,0.95 0 1,0 1.9,0a0.95,0.95 0 1,0 -1.9,0zM412.29,103.38a0.95,0.95 0 1,0 1.9,0a0.95,0.95 0 1,0 -1.9,0zM413.04,114.68a0.95,0.95 0 1,0 1.9,0a0.95,0.95 0 1,0 -1.9,0zM413.79,115.84a0.95,0.95 0 1,0 1.9,0a0.95,0.95 0 1,0 -1.9,0zM414.54,118.94a0.95,0.95 0 1,0 1.9,0a0.95,0.95 0 1,0 -1.9,0zM415.30,117.37a0.95,0.95 0 1,0 1.9,0a0.95,0.95 0 1,0 -1.9,0zM416.05,119.83a0.95,0.95 0 1,0 1.9,0a0.95,0.95 0 1,0 -1.9,0zM416.80,117.77a0.95,0.95 0 1,0 1.9,0a0.95,0.95 0 1,0 -1.9,0zM417.55,117.53a0.95,0.95 0 1,0 1.9,0a0.95,0.95 0 1,0 -1.9,0zM418.30,118.82a0.95,0.95 0 1,0 1.9,0a0.95,0.95 0 1,0 -1.9,0zM419.05,115.78a0.95,0.95 0 1,0 1.9,0a0.95,0.95 0 1,0 -1.9,0zM419.80,116.29a0.95,0.95 0 1,0 1.9,0a0.95,0.95 0 1,0 -1.9,0zM420.55,118.76a0.95,0.95 0 1,0 1.9,0a0.95,0.95 0 1,0 -1.9,0zM421.30,117.55a0.95,0.95 0 1,0 1.9,0a0.95,0.95 0 1,0 -1.9,0zM422.05,119.74a0.95,0.95 0 1,0 1.9,0a0.95,0.95 0 1,0 -1.9,0zM422.80,120.45a0.95,0.95 0 1,0 1.9,0a0.95,0.95 0 1,0 -1.9,0zM423.55,120.68a0.95,0.95 0 1,0 1.9,0a0.95,0.95 0 1,0 -1.9,0zM424.30,119.27a0.95,0.95 0 1,0 1.9,0a0.95,0.95 0 1,0 -1.9,0zM425.05,120.52a0.95,0.95 0 1,0 1.9,0a0.95,0.95 0 1,0 -1.9,0zM425.80,123.31a0.95,0.95 0 1,0 1.9,0a0.95,0.95 0 1,0 -1.9,0zM426.56,121.71a0.95,0.95 0 1,0 1.9,0a0.95,0.95 0 1,0 -1.9,0zM427.31,119.16a0.95,0.95 0 1,0 1.9,0a0.95,0.95 0 1,0 -1.9,0zM428.06,119.90a0.95,0.95 0 1,0 1.9,0a0.95,0.95 0 1,0 -1.9,0zM428.81,119.62a0.95,0.95 0 1,0 1.9,0a0.95,0.95 0 1,0 -1.9,0zM429.56,119.61a0.95,0.95 0 1,0 1.9,0a0.95,0.95 0 1,0 -1.9,0zM430.31,118.09a0.95,0.95 0 1,0 1.9,0a0.95,0.95 0 1,0 -1.9,0zM431.06,118.48a0.95,0.95 0 1,0 1.9,0a0.95,0.95 0 1,0 -1.9,0zM431.81,120.45a0.95,0.95 0 1,0 1.9,0a0.95,0.95 0 1,0 -1.9,0zM432.56,118.15a0.95,0.95 0 1,0 1.9,0a0.95,0.95 0 1,0 -1.9,0zM433.31,118.29a0.95,0.95 0 1,0 1.9,0a0.95,0.95 0 1,0 -1.9,0zM434.06,120.57a0.95,0.95 0 1,0 1.9,0a0.95,0.95 0 1,0 -1.9,0zM434.81,120.31a0.95,0.95 0 1,0 1.9,0a0.95,0.95 0 1,0 -1.9,0zM435.56,116.43a0.95,0.95 0 1,0 1.9,0a0.95,0.95 0 1,0 -1.9,0zM436.31,116.98a0.95,0.95 0 1,0 1.9,0a0.95,0.95 0 1,0 -1.9,0zM437.06,115.85a0.95,0.95 0 1,0 1.9,0a0.95,0.95 0 1,0 -1.9,0zM437.82,116.39a0.95,0.95 0 1,0 1.9,0a0.95,0.95 0 1,0 -1.9,0zM438.57,111.73a0.95,0.95 0 1,0 1.9,0a0.95,0.95 0 1,0 -1.9,0zM439.32,110.84a0.95,0.95 0 1,0 1.9,0a0.95,0.95 0 1,0 -1.9,0zM440.07,109.44a0.95,0.95 0 1,0 1.9,0a0.95,0.95 0 1,0 -1.9,0zM440.82,109.99a0.95,0.95 0 1,0 1.9,0a0.95,0.95 0 1,0 -1.9,0zM441.57,109.50a0.95,0.95 0 1,0 1.9,0a0.95,0.95 0 1,0 -1.9,0zM442.32,110.00a0.95,0.95 0 1,0 1.9,0a0.95,0.95 0 1,0 -1.9,0zM443.07,111.15a0.95,0.95 0 1,0 1.9,0a0.95,0.95 0 1,0 -1.9,0zM443.82,114.60a0.95,0.95 0 1,0 1.9,0a0.95,0.95 0 1,0 -1.9,0zM444.57,112.71a0.95,0.95 0 1,0 1.9,0a0.95,0.95 0 1,0 -1.9,0zM445.32,115.34a0.95,0.95 0 1,0 1.9,0a0.95,0.95 0 1,0 -1.9,0zM446.07,112.70a0.95,0.95 0 1,0 1.9,0a0.95,0.95 0 1,0 -1.9,0zM446.82,115.12a0.95,0.95 0 1,0 1.9,0a0.95,0.95 0 1,0 -1.9,0zM447.57,112.25a0.95,0.95 0 1,0 1.9,0a0.95,0.95 0 1,0 -1.9,0zM448.32,114.85a0.95,0.95 0 1,0 1.9,0a0.95,0.95 0 1,0 -1.9,0zM449.08,111.50a0.95,0.95 0 1,0 1.9,0a0.95,0.95 0 1,0 -1.9,0zM449.83,112.82a0.95,0.95 0 1,0 1.9,0a0.95,0.95 0 1,0 -1.9,0zM450.58,109.53a0.95,0.95 0 1,0 1.9,0a0.95,0.95 0 1,0 -1.9,0zM451.33,109.99a0.95,0.95 0 1,0 1.9,0a0.95,0.95 0 1,0 -1.9,0zM452.08,111.50a0.95,0.95 0 1,0 1.9,0a0.95,0.95 0 1,0 -1.9,0zM452.83,114.92a0.95,0.95 0 1,0 1.9,0a0.95,0.95 0 1,0 -1.9,0zM453.58,113.67a0.95,0.95 0 1,0 1.9,0a0.95,0.95 0 1,0 -1.9,0zM454.33,117.00a0.95,0.95 0 1,0 1.9,0a0.95,0.95 0 1,0 -1.9,0zM455.08,115.94a0.95,0.95 0 1,0 1.9,0a0.95,0.95 0 1,0 -1.9,0zM455.83,118.33a0.95,0.95 0 1,0 1.9,0a0.95,0.95 0 1,0 -1.9,0zM456.58,121.38a0.95,0.95 0 1,0 1.9,0a0.95,0.95 0 1,0 -1.9,0zM457.33,121.85a0.95,0.95 0 1,0 1.9,0a0.95,0.95 0 1,0 -1.9,0zM458.08,123.03a0.95,0.95 0 1,0 1.9,0a0.95,0.95 0 1,0 -1.9,0zM458.83,128.14a0.95,0.95 0 1,0 1.9,0a0.95,0.95 0 1,0 -1.9,0zM459.58,128.35a0.95,0.95 0 1,0 1.9,0a0.95,0.95 0 1,0 -1.9,0zM460.34,128.94a0.95,0.95 0 1,0 1.9,0a0.95,0.95 0 1,0 -1.9,0zM461.09,123.76a0.95,0.95 0 1,0 1.9,0a0.95,0.95 0 1,0 -1.9,0zM461.84,123.72a0.95,0.95 0 1,0 1.9,0a0.95,0.95 0 1,0 -1.9,0zM462.59,120.93a0.95,0.95 0 1,0 1.9,0a0.95,0.95 0 1,0 -1.9,0zM463.34,120.55a0.95,0.95 0 1,0 1.9,0a0.95,0.95 0 1,0 -1.9,0zM464.09,121.73a0.95,0.95 0 1,0 1.9,0a0.95,0.95 0 1,0 -1.9,0zM464.84,118.91a0.95,0.95 0 1,0 1.9,0a0.95,0.95 0 1,0 -1.9,0zM465.59,118.44a0.95,0.95 0 1,0 1.9,0a0.95,0.95 0 1,0 -1.9,0zM466.34,117.38a0.95,0.95 0 1,0 1.9,0a0.95,0.95 0 1,0 -1.9,0zM467.09,118.95a0.95,0.95 0 1,0 1.9,0a0.95,0.95 0 1,0 -1.9,0zM467.84,115.47a0.95,0.95 0 1,0 1.9,0a0.95,0.95 0 1,0 -1.9,0zM468.59,117.25a0.95,0.95 0 1,0 1.9,0a0.95,0.95 0 1,0 -1.9,0zM469.34,113.94a0.95,0.95 0 1,0 1.9,0a0.95,0.95 0 1,0 -1.9,0zM470.09,115.14a0.95,0.95 0 1,0 1.9,0a0.95,0.95 0 1,0 -1.9,0zM470.84,112.38a0.95,0.95 0 1,0 1.9,0a0.95,0.95 0 1,0 -1.9,0zM471.60,115.90a0.95,0.95 0 1,0 1.9,0a0.95,0.95 0 1,0 -1.9,0zM472.35,116.12a0.95,0.95 0 1,0 1.9,0a0.95,0.95 0 1,0 -1.9,0zM473.10,117.48a0.95,0.95 0 1,0 1.9,0a0.95,0.95 0 1,0 -1.9,0zM473.85,115.78a0.95,0.95 0 1,0 1.9,0a0.95,0.95 0 1,0 -1.9,0zM474.60,119.19a0.95,0.95 0 1,0 1.9,0a0.95,0.95 0 1,0 -1.9,0zM475.35,117.00a0.95,0.95 0 1,0 1.9,0a0.95,0.95 0 1,0 -1.9,0zM476.10,117.89a0.95,0.95 0 1,0 1.9,0a0.95,0.95 0 1,0 -1.9,0zM476.85,118.48a0.95,0.95 0 1,0 1.9,0a0.95,0.95 0 1,0 -1.9,0zM477.60,121.29a0.95,0.95 0 1,0 1.9,0a0.95,0.95 0 1,0 -1.9,0zM478.35,119.92a0.95,0.95 0 1,0 1.9,0a0.95,0.95 0 1,0 -1.9,0zM479.10,120.50a0.95,0.95 0 1,0 1.9,0a0.95,0.95 0 1,0 -1.9,0zM479.85,122.11a0.95,0.95 0 1,0 1.9,0a0.95,0.95 0 1,0 -1.9,0zM480.60,122.66a0.95,0.95 0 1,0 1.9,0a0.95,0.95 0 1,0 -1.9,0zM481.35,121.02a0.95,0.95 0 1,0 1.9,0a0.95,0.95 0 1,0 -1.9,0zM482.10,124.64a0.95,0.95 0 1,0 1.9,0a0.95,0.95 0 1,0 -1.9,0zM482.86,122.67a0.95,0.95 0 1,0 1.9,0a0.95,0.95 0 1,0 -1.9,0zM483.61,123.80a0.95,0.95 0 1,0 1.9,0a0.95,0.95 0 1,0 -1.9,0zM484.36,125.23a0.95,0.95 0 1,0 1.9,0a0.95,0.95 0 1,0 -1.9,0zM485.11,125.59a0.95,0.95 0 1,0 1.9,0a0.95,0.95 0 1,0 -1.9,0zM485.86,127.28a0.95,0.95 0 1,0 1.9,0a0.95,0.95 0 1,0 -1.9,0zM486.61,127.66a0.95,0.95 0 1,0 1.9,0a0.95,0.95 0 1,0 -1.9,0zM487.36,131.14a0.95,0.95 0 1,0 1.9,0a0.95,0.95 0 1,0 -1.9,0zM488.11,130.30a0.95,0.95 0 1,0 1.9,0a0.95,0.95 0 1,0 -1.9,0zM488.86,132.58a0.95,0.95 0 1,0 1.9,0a0.95,0.95 0 1,0 -1.9,0zM489.61,128.94a0.95,0.95 0 1,0 1.9,0a0.95,0.95 0 1,0 -1.9,0zM490.36,127.23a0.95,0.95 0 1,0 1.9,0a0.95,0.95 0 1,0 -1.9,0zM491.11,126.95a0.95,0.95 0 1,0 1.9,0a0.95,0.95 0 1,0 -1.9,0zM491.86,123.33a0.95,0.95 0 1,0 1.9,0a0.95,0.95 0 1,0 -1.9,0zM492.61,123.14a0.95,0.95 0 1,0 1.9,0a0.95,0.95 0 1,0 -1.9,0zM493.36,121.68a0.95,0.95 0 1,0 1.9,0a0.95,0.95 0 1,0 -1.9,0zM494.12,120.86a0.95,0.95 0 1,0 1.9,0a0.95,0.95 0 1,0 -1.9,0zM494.87,118.59a0.95,0.95 0 1,0 1.9,0a0.95,0.95 0 1,0 -1.9,0zM495.62,120.05a0.95,0.95 0 1,0 1.9,0a0.95,0.95 0 1,0 -1.9,0zM496.37,117.57a0.95,0.95 0 1,0 1.9,0a0.95,0.95 0 1,0 -1.9,0zM497.12,117.48a0.95,0.95 0 1,0 1.9,0a0.95,0.95 0 1,0 -1.9,0zM497.87,118.53a0.95,0.95 0 1,0 1.9,0a0.95,0.95 0 1,0 -1.9,0zM498.62,117.74a0.95,0.95 0 1,0 1.9,0a0.95,0.95 0 1,0 -1.9,0zM499.37,116.43a0.95,0.95 0 1,0 1.9,0a0.95,0.95 0 1,0 -1.9,0zM500.12,119.22a0.95,0.95 0 1,0 1.9,0a0.95,0.95 0 1,0 -1.9,0zM500.87,118.78a0.95,0.95 0 1,0 1.9,0a0.95,0.95 0 1,0 -1.9,0zM501.62,121.41a0.95,0.95 0 1,0 1.9,0a0.95,0.95 0 1,0 -1.9,0zM502.37,118.93a0.95,0.95 0 1,0 1.9,0a0.95,0.95 0 1,0 -1.9,0zM503.12,120.20a0.95,0.95 0 1,0 1.9,0a0.95,0.95 0 1,0 -1.9,0zM503.87,117.03a0.95,0.95 0 1,0 1.9,0a0.95,0.95 0 1,0 -1.9,0zM504.62,117.81a0.95,0.95 0 1,0 1.9,0a0.95,0.95 0 1,0 -1.9,0zM505.38,115.79a0.95,0.95 0 1,0 1.9,0a0.95,0.95 0 1,0 -1.9,0zM506.13,116.06a0.95,0.95 0 1,0 1.9,0a0.95,0.95 0 1,0 -1.9,0zM506.88,115.00a0.95,0.95 0 1,0 1.9,0a0.95,0.95 0 1,0 -1.9,0zM507.63,117.14a0.95,0.95 0 1,0 1.9,0a0.95,0.95 0 1,0 -1.9,0zM508.38,115.17a0.95,0.95 0 1,0 1.9,0a0.95,0.95 0 1,0 -1.9,0zM509.13,117.71a0.95,0.95 0 1,0 1.9,0a0.95,0.95 0 1,0 -1.9,0zM509.88,115.99a0.95,0.95 0 1,0 1.9,0a0.95,0.95 0 1,0 -1.9,0zM510.63,116.47a0.95,0.95 0 1,0 1.9,0a0.95,0.95 0 1,0 -1.9,0zM511.38,118.59a0.95,0.95 0 1,0 1.9,0a0.95,0.95 0 1,0 -1.9,0zM512.13,118.54a0.95,0.95 0 1,0 1.9,0a0.95,0.95 0 1,0 -1.9,0zM512.88,119.27a0.95,0.95 0 1,0 1.9,0a0.95,0.95 0 1,0 -1.9,0zM513.63,117.74a0.95,0.95 0 1,0 1.9,0a0.95,0.95 0 1,0 -1.9,0zM514.38,119.62a0.95,0.95 0 1,0 1.9,0a0.95,0.95 0 1,0 -1.9,0zM515.13,117.71a0.95,0.95 0 1,0 1.9,0a0.95,0.95 0 1,0 -1.9,0zM515.88,118.65a0.95,0.95 0 1,0 1.9,0a0.95,0.95 0 1,0 -1.9,0zM516.64,120.14a0.95,0.95 0 1,0 1.9,0a0.95,0.95 0 1,0 -1.9,0zM517.39,118.92a0.95,0.95 0 1,0 1.9,0a0.95,0.95 0 1,0 -1.9,0zM518.14,119.12a0.95,0.95 0 1,0 1.9,0a0.95,0.95 0 1,0 -1.9,0zM518.89,121.75a0.95,0.95 0 1,0 1.9,0a0.95,0.95 0 1,0 -1.9,0zM519.64,120.26a0.95,0.95 0 1,0 1.9,0a0.95,0.95 0 1,0 -1.9,0zM520.39,119.38a0.95,0.95 0 1,0 1.9,0a0.95,0.95 0 1,0 -1.9,0zM521.14,119.14a0.95,0.95 0 1,0 1.9,0a0.95,0.95 0 1,0 -1.9,0zM521.89,115.61a0.95,0.95 0 1,0 1.9,0a0.95,0.95 0 1,0 -1.9,0zM522.64,117.41a0.95,0.95 0 1,0 1.9,0a0.95,0.95 0 1,0 -1.9,0zM523.39,116.55a0.95,0.95 0 1,0 1.9,0a0.95,0.95 0 1,0 -1.9,0zM524.14,118.70a0.95,0.95 0 1,0 1.9,0a0.95,0.95 0 1,0 -1.9,0zM524.89,117.79a0.95,0.95 0 1,0 1.9,0a0.95,0.95 0 1,0 -1.9,0zM525.64,118.70a0.95,0.95 0 1,0 1.9,0a0.95,0.95 0 1,0 -1.9,0zM526.39,120.61a0.95,0.95 0 1,0 1.9,0a0.95,0.95 0 1,0 -1.9,0zM527.14,119.97a0.95,0.95 0 1,0 1.9,0a0.95,0.95 0 1,0 -1.9,0zM527.90,122.75a0.95,0.95 0 1,0 1.9,0a0.95,0.95 0 1,0 -1.9,0zM528.65,122.84a0.95,0.95 0 1,0 1.9,0a0.95,0.95 0 1,0 -1.9,0zM529.40,123.47a0.95,0.95 0 1,0 1.9,0a0.95,0.95 0 1,0 -1.9,0zM530.15,123.79a0.95,0.95 0 1,0 1.9,0a0.95,0.95 0 1,0 -1.9,0zM530.90,121.88a0.95,0.95 0 1,0 1.9,0a0.95,0.95 0 1,0 -1.9,0zM531.65,123.83a0.95,0.95 0 1,0 1.9,0a0.95,0.95 0 1,0 -1.9,0zM532.40,121.82a0.95,0.95 0 1,0 1.9,0a0.95,0.95 0 1,0 -1.9,0zM533.15,122.01a0.95,0.95 0 1,0 1.9,0a0.95,0.95 0 1,0 -1.9,0zM533.90,124.31a0.95,0.95 0 1,0 1.9,0a0.95,0.95 0 1,0 -1.9,0zM534.65,124.16a0.95,0.95 0 1,0 1.9,0a0.95,0.95 0 1,0 -1.9,0zM535.40,124.83a0.95,0.95 0 1,0 1.9,0a0.95,0.95 0 1,0 -1.9,0zM536.15,127.18a0.95,0.95 0 1,0 1.9,0a0.95,0.95 0 1,0 -1.9,0zM536.90,126.75a0.95,0.95 0 1,0 1.9,0a0.95,0.95 0 1,0 -1.9,0zM537.65,128.11a0.95,0.95 0 1,0 1.9,0a0.95,0.95 0 1,0 -1.9,0zM538.40,125.61a0.95,0.95 0 1,0 1.9,0a0.95,0.95 0 1,0 -1.9,0zM539.16,124.64a0.95,0.95 0 1,0 1.9,0a0.95,0.95 0 1,0 -1.9,0zM539.91,125.07a0.95,0.95 0 1,0 1.9,0a0.95,0.95 0 1,0 -1.9,0zM540.66,122.38a0.95,0.95 0 1,0 1.9,0a0.95,0.95 0 1,0 -1.9,0zM541.41,123.40a0.95,0.95 0 1,0 1.9,0a0.95,0.95 0 1,0 -1.9,0zM542.16,122.01a0.95,0.95 0 1,0 1.9,0a0.95,0.95 0 1,0 -1.9,0zM542.91,123.23a0.95,0.95 0 1,0 1.9,0a0.95,0.95 0 1,0 -1.9,0zM543.66,122.91a0.95,0.95 0 1,0 1.9,0a0.95,0.95 0 1,0 -1.9,0zM544.41,122.57a0.95,0.95 0 1,0 1.9,0a0.95,0.95 0 1,0 -1.9,0zM545.16,121.20a0.95,0.95 0 1,0 1.9,0a0.95,0.95 0 1,0 -1.9,0zM545.91,121.66a0.95,0.95 0 1,0 1.9,0a0.95,0.95 0 1,0 -1.9,0zM546.66,122.77a0.95,0.95 0 1,0 1.9,0a0.95,0.95 0 1,0 -1.9,0zM547.41,123.04a0.95,0.95 0 1,0 1.9,0a0.95,0.95 0 1,0 -1.9,0zM548.16,121.94a0.95,0.95 0 1,0 1.9,0a0.95,0.95 0 1,0 -1.9,0zM548.91,123.74a0.95,0.95 0 1,0 1.9,0a0.95,0.95 0 1,0 -1.9,0zM549.66,121.97a0.95,0.95 0 1,0 1.9,0a0.95,0.95 0 1,0 -1.9,0zM550.42,123.72a0.95,0.95 0 1,0 1.9,0a0.95,0.95 0 1,0 -1.9,0zM551.17,122.93a0.95,0.95 0 1,0 1.9,0a0.95,0.95 0 1,0 -1.9,0zM551.92,122.63a0.95,0.95 0 1,0 1.9,0a0.95,0.95 0 1,0 -1.9,0zM552.67,124.21a0.95,0.95 0 1,0 1.9,0a0.95,0.95 0 1,0 -1.9,0zM553.42,121.66a0.95,0.95 0 1,0 1.9,0a0.95,0.95 0 1,0 -1.9,0zM554.17,119.69a0.95,0.95 0 1,0 1.9,0a0.95,0.95 0 1,0 -1.9,0zM554.92,119.10a0.95,0.95 0 1,0 1.9,0a0.95,0.95 0 1,0 -1.9,0zM555.67,116.30a0.95,0.95 0 1,0 1.9,0a0.95,0.95 0 1,0 -1.9,0zM556.42,116.22a0.95,0.95 0 1,0 1.9,0a0.95,0.95 0 1,0 -1.9,0zM557.17,113.58a0.95,0.95 0 1,0 1.9,0a0.95,0.95 0 1,0 -1.9,0zM557.92,112.62a0.95,0.95 0 1,0 1.9,0a0.95,0.95 0 1,0 -1.9,0zM558.67,112.71a0.95,0.95 0 1,0 1.9,0a0.95,0.95 0 1,0 -1.9,0zM559.42,113.85a0.95,0.95 0 1,0 1.9,0a0.95,0.95 0 1,0 -1.9,0zM560.17,116.53a0.95,0.95 0 1,0 1.9,0a0.95,0.95 0 1,0 -1.9,0zM560.92,116.65a0.95,0.95 0 1,0 1.9,0a0.95,0.95 0 1,0 -1.9,0zM561.68,120.26a0.95,0.95 0 1,0 1.9,0a0.95,0.95 0 1,0 -1.9,0zM562.43,122.38a0.95,0.95 0 1,0 1.9,0a0.95,0.95 0 1,0 -1.9,0zM563.18,120.79a0.95,0.95 0 1,0 1.9,0a0.95,0.95 0 1,0 -1.9,0zM563.93,119.97a0.95,0.95 0 1,0 1.9,0a0.95,0.95 0 1,0 -1.9,0zM564.68,115.75a0.95,0.95 0 1,0 1.9,0a0.95,0.95 0 1,0 -1.9,0zM565.43,114.51a0.95,0.95 0 1,0 1.9,0a0.95,0.95 0 1,0 -1.9,0zM566.18,110.51a0.95,0.95 0 1,0 1.9,0a0.95,0.95 0 1,0 -1.9,0zM566.93,109.50a0.95,0.95 0 1,0 1.9,0a0.95,0.95 0 1,0 -1.9,0zM567.68,107.18a0.95,0.95 0 1,0 1.9,0a0.95,0.95 0 1,0 -1.9,0zM568.43,107.92a0.95,0.95 0 1,0 1.9,0a0.95,0.95 0 1,0 -1.9,0zM569.18,106.34a0.95,0.95 0 1,0 1.9,0a0.95,0.95 0 1,0 -1.9,0zM569.93,105.74a0.95,0.95 0 1,0 1.9,0a0.95,0.95 0 1,0 -1.9,0zM570.68,103.77a0.95,0.95 0 1,0 1.9,0a0.95,0.95 0 1,0 -1.9,0zM571.43,104.92a0.95,0.95 0 1,0 1.9,0a0.95,0.95 0 1,0 -1.9,0zM572.18,103.73a0.95,0.95 0 1,0 1.9,0a0.95,0.95 0 1,0 -1.9,0zM572.94,106.09a0.95,0.95 0 1,0 1.9,0a0.95,0.95 0 1,0 -1.9,0zM573.69,106.72a0.95,0.95 0 1,0 1.9,0a0.95,0.95 0 1,0 -1.9,0zM574.44,108.38a0.95,0.95 0 1,0 1.9,0a0.95,0.95 0 1,0 -1.9,0zM575.19,110.29a0.95,0.95 0 1,0 1.9,0a0.95,0.95 0 1,0 -1.9,0zM575.94,112.66a0.95,0.95 0 1,0 1.9,0a0.95,0.95 0 1,0 -1.9,0zM576.69,115.03a0.95,0.95 0 1,0 1.9,0a0.95,0.95 0 1,0 -1.9,0zM577.44,118.19a0.95,0.95 0 1,0 1.9,0a0.95,0.95 0 1,0 -1.9,0zM578.19,120.95a0.95,0.95 0 1,0 1.9,0a0.95,0.95 0 1,0 -1.9,0zM578.94,124.75a0.95,0.95 0 1,0 1.9,0a0.95,0.95 0 1,0 -1.9,0zM579.69,126.76a0.95,0.95 0 1,0 1.9,0a0.95,0.95 0 1,0 -1.9,0zM580.44,129.08a0.95,0.95 0 1,0 1.9,0a0.95,0.95 0 1,0 -1.9,0zM581.19,128.50a0.95,0.95 0 1,0 1.9,0a0.95,0.95 0 1,0 -1.9,0zM581.94,130.74a0.95,0.95 0 1,0 1.9,0a0.95,0.95 0 1,0 -1.9,0zM582.69,130.10a0.95,0.95 0 1,0 1.9,0a0.95,0.95 0 1,0 -1.9,0zM583.44,128.82a0.95,0.95 0 1,0 1.9,0a0.95,0.95 0 1,0 -1.9,0zM584.20,128.85a0.95,0.95 0 1,0 1.9,0a0.95,0.95 0 1,0 -1.9,0zM584.95,126.97a0.95,0.95 0 1,0 1.9,0a0.95,0.95 0 1,0 -1.9,0zM585.70,124.23a0.95,0.95 0 1,0 1.9,0a0.95,0.95 0 1,0 -1.9,0zM586.45,123.87a0.95,0.95 0 1,0 1.9,0a0.95,0.95 0 1,0 -1.9,0zM587.20,123.69a0.95,0.95 0 1,0 1.9,0a0.95,0.95 0 1,0 -1.9,0zM587.95,124.95a0.95,0.95 0 1,0 1.9,0a0.95,0.95 0 1,0 -1.9,0zM588.70,124.44a0.95,0.95 0 1,0 1.9,0a0.95,0.95 0 1,0 -1.9,0zM589.45,123.58a0.95,0.95 0 1,0 1.9,0a0.95,0.95 0 1,0 -1.9,0z" fill="#000000"/>
<line x1="390.50" y1="74.50" x2="400.80" y2="74.50" stroke="#505050" stroke-width="1.3" />
<path d="M383.4,74.5 L391.6,72.4 L390.6,74.5 L391.6,76.6 Z" fill="#000"/>
<line x1="526.90" y1="30.50" x2="541.00" y2="30.50" stroke="#505050" stroke-width="1.3" />
<path d="M547.2,30.5 L540.2,28.4 L541.0,30.5 L540.2,32.6 Z" fill="#000"/>
<line x1="407.60" y1="124.00" x2="407.60" y2="142.50" stroke="#7a7a7a" stroke-width="1.3" />
<path d="M407.6,118.3 L405.5,125.2 L407.6,124.4 L409.7,125.2 Z" fill="#000"/>
<text x="395.50" y="157.20" font-size="13.2" text-anchor="start" >T &gt; 40°C</text>
<text x="576.00" y="219.30" font-size="14" text-anchor="middle" >(b)</text>
<rect x="365.2" y="6.7" width="225.20" height="225.20" fill="none" stroke="#000" stroke-width="1.7"/>
</svg></body></html>
